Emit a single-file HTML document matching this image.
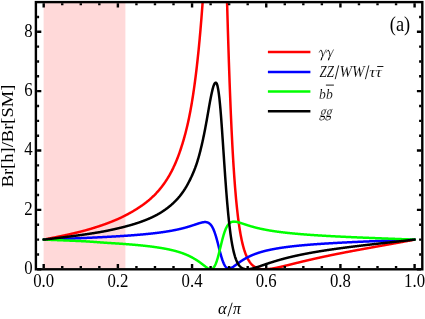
<!DOCTYPE html>
<html><head><meta charset="utf-8"><style>
html,body{margin:0;padding:0;background:#fff;}
svg{display:block;font-family:"Liberation Serif",serif;font-size:16px;fill:#000;}
</style></head><body>
<svg width="425" height="319" viewBox="0 0 425 319">
<rect width="425" height="319" fill="#fff"/>
<defs><filter id="tb" x="0" y="0" width="425" height="319" filterUnits="userSpaceOnUse"><feGaussianBlur stdDeviation="0.25"/></filter><clipPath id="c"><rect x="35.9" y="2.1" width="386.40000000000003" height="267.2"/></clipPath></defs>
<rect x="43.6" y="2.1" width="81.8" height="267.2" fill="#FFD9D9"/>
<g clip-path="url(#c)" fill="none" stroke-width="2.5" stroke-linejoin="round" stroke-linecap="round">
<path stroke="#f00" d="M43.70 239.61 L43.95 239.56 L44.19 239.51 L44.44 239.47 L44.69 239.42 L44.94 239.37 L45.18 239.32 L45.43 239.27 L45.68 239.23 L45.93 239.18 L46.17 239.13 L46.42 239.08 L46.67 239.03 L46.91 238.98 L47.16 238.94 L47.41 238.89 L47.66 238.84 L47.90 238.79 L48.15 238.74 L48.40 238.69 L48.65 238.64 L48.89 238.60 L49.14 238.55 L49.39 238.50 L49.63 238.45 L49.88 238.40 L50.13 238.35 L50.38 238.30 L50.62 238.25 L50.87 238.20 L51.12 238.15 L51.37 238.10 L51.61 238.05 L51.86 238.00 L52.11 237.95 L52.35 237.90 L52.60 237.85 L52.85 237.80 L53.10 237.75 L53.34 237.70 L53.59 237.65 L53.84 237.60 L54.09 237.55 L54.33 237.50 L54.58 237.45 L54.83 237.40 L55.07 237.35 L55.32 237.30 L55.57 237.25 L55.82 237.20 L56.06 237.15 L56.31 237.10 L56.56 237.05 L56.81 237.00 L57.05 236.94 L57.30 236.89 L57.55 236.84 L57.79 236.79 L58.04 236.74 L58.29 236.69 L58.54 236.64 L58.78 236.58 L59.03 236.53 L59.28 236.48 L59.53 236.43 L59.77 236.38 L60.02 236.32 L60.27 236.27 L60.51 236.22 L60.76 236.17 L61.01 236.12 L61.26 236.06 L61.50 236.01 L61.75 235.96 L62.00 235.90 L62.25 235.85 L62.49 235.80 L62.74 235.75 L62.99 235.69 L63.23 235.64 L63.48 235.59 L63.73 235.53 L63.98 235.48 L64.22 235.42 L64.47 235.37 L64.72 235.32 L64.96 235.26 L65.21 235.21 L65.46 235.15 L65.71 235.10 L65.95 235.05 L66.20 234.99 L66.45 234.94 L66.70 234.88 L66.94 234.83 L67.19 234.77 L67.44 234.72 L67.68 234.66 L67.93 234.61 L68.18 234.55 L68.43 234.50 L68.67 234.44 L68.92 234.38 L69.17 234.33 L69.42 234.27 L69.66 234.22 L69.91 234.16 L70.16 234.11 L70.40 234.05 L70.65 233.99 L70.90 233.94 L71.15 233.88 L71.39 233.82 L71.64 233.77 L71.89 233.71 L72.14 233.65 L72.38 233.59 L72.63 233.54 L72.88 233.48 L73.12 233.42 L73.37 233.36 L73.62 233.31 L73.87 233.25 L74.11 233.19 L74.36 233.13 L74.61 233.07 L74.86 233.01 L75.10 232.96 L75.35 232.90 L75.60 232.84 L75.84 232.78 L76.09 232.72 L76.34 232.66 L76.59 232.60 L76.83 232.54 L77.08 232.48 L77.33 232.42 L77.58 232.36 L77.82 232.30 L78.07 232.24 L78.32 232.18 L78.56 232.12 L78.81 232.06 L79.06 232.00 L79.31 231.94 L79.55 231.88 L79.80 231.82 L80.05 231.75 L80.30 231.69 L80.54 231.63 L80.79 231.57 L81.04 231.51 L81.28 231.44 L81.53 231.38 L81.78 231.32 L82.03 231.26 L82.27 231.19 L82.52 231.13 L82.77 231.06 L83.02 231.00 L83.26 230.93 L83.51 230.87 L83.76 230.80 L84.00 230.74 L84.25 230.67 L84.50 230.60 L84.75 230.54 L84.99 230.47 L85.24 230.40 L85.49 230.33 L85.74 230.26 L85.98 230.20 L86.23 230.13 L86.48 230.06 L86.72 229.99 L86.97 229.92 L87.22 229.85 L87.47 229.78 L87.71 229.71 L87.96 229.64 L88.21 229.57 L88.46 229.50 L88.70 229.42 L88.95 229.35 L89.20 229.28 L89.44 229.21 L89.69 229.13 L89.94 229.06 L90.19 228.99 L90.43 228.91 L90.68 228.84 L90.93 228.77 L91.18 228.69 L91.42 228.62 L91.67 228.54 L91.92 228.47 L92.16 228.39 L92.41 228.32 L92.66 228.24 L92.91 228.17 L93.15 228.09 L93.40 228.01 L93.65 227.94 L93.90 227.86 L94.14 227.78 L94.39 227.71 L94.64 227.63 L94.88 227.55 L95.13 227.47 L95.38 227.39 L95.63 227.31 L95.87 227.24 L96.12 227.16 L96.37 227.08 L96.62 227.00 L96.86 226.92 L97.11 226.84 L97.36 226.76 L97.60 226.68 L97.85 226.60 L98.10 226.52 L98.35 226.44 L98.59 226.36 L98.84 226.28 L99.09 226.19 L99.34 226.11 L99.58 226.03 L99.83 225.95 L100.08 225.87 L100.32 225.78 L100.57 225.70 L100.82 225.62 L101.07 225.53 L101.31 225.45 L101.56 225.36 L101.81 225.28 L102.05 225.19 L102.30 225.11 L102.55 225.02 L102.80 224.94 L103.04 224.85 L103.29 224.76 L103.54 224.68 L103.79 224.59 L104.03 224.50 L104.28 224.41 L104.53 224.33 L104.77 224.24 L105.02 224.15 L105.27 224.06 L105.52 223.97 L105.76 223.88 L106.01 223.79 L106.26 223.70 L106.51 223.61 L106.75 223.52 L107.00 223.42 L107.25 223.33 L107.49 223.24 L107.74 223.15 L107.99 223.05 L108.24 222.96 L108.48 222.87 L108.73 222.77 L108.98 222.68 L109.23 222.58 L109.47 222.49 L109.72 222.39 L109.97 222.30 L110.21 222.20 L110.46 222.10 L110.71 222.01 L110.96 221.91 L111.20 221.81 L111.45 221.71 L111.70 221.61 L111.95 221.52 L112.19 221.42 L112.44 221.32 L112.69 221.22 L112.93 221.12 L113.18 221.01 L113.43 220.91 L113.68 220.81 L113.92 220.71 L114.17 220.61 L114.42 220.50 L114.67 220.40 L114.91 220.30 L115.16 220.19 L115.41 220.09 L115.65 219.98 L115.90 219.88 L116.15 219.77 L116.40 219.67 L116.64 219.56 L116.89 219.45 L117.14 219.34 L117.39 219.24 L117.63 219.13 L117.88 219.02 L118.13 218.91 L118.37 218.80 L118.62 218.69 L118.87 218.58 L119.12 218.47 L119.36 218.35 L119.61 218.24 L119.86 218.13 L120.11 218.01 L120.35 217.90 L120.60 217.78 L120.85 217.67 L121.09 217.55 L121.34 217.43 L121.59 217.31 L121.84 217.20 L122.08 217.08 L122.33 216.96 L122.58 216.84 L122.83 216.72 L123.07 216.59 L123.32 216.47 L123.57 216.35 L123.81 216.23 L124.06 216.10 L124.31 215.98 L124.56 215.85 L124.80 215.73 L125.05 215.60 L125.30 215.47 L125.55 215.35 L125.79 215.22 L126.04 215.09 L126.29 214.96 L126.53 214.83 L126.78 214.70 L127.03 214.57 L127.28 214.44 L127.52 214.31 L127.77 214.17 L128.02 214.04 L128.27 213.90 L128.51 213.77 L128.76 213.63 L129.01 213.50 L129.25 213.36 L129.50 213.23 L129.75 213.09 L130.00 212.95 L130.24 212.81 L130.49 212.67 L130.74 212.53 L130.99 212.39 L131.23 212.25 L131.48 212.11 L131.73 211.96 L131.97 211.82 L132.22 211.68 L132.47 211.53 L132.72 211.39 L132.96 211.24 L133.21 211.10 L133.46 210.95 L133.71 210.80 L133.95 210.65 L134.20 210.51 L134.45 210.36 L134.69 210.21 L134.94 210.05 L135.19 209.90 L135.44 209.75 L135.68 209.60 L135.93 209.45 L136.18 209.29 L136.43 209.14 L136.67 208.98 L136.92 208.83 L137.17 208.67 L137.41 208.51 L137.66 208.35 L137.91 208.19 L138.16 208.04 L138.40 207.87 L138.65 207.71 L138.90 207.55 L139.14 207.39 L139.39 207.23 L139.64 207.06 L139.89 206.90 L140.13 206.73 L140.38 206.57 L140.63 206.40 L140.88 206.23 L141.12 206.06 L141.37 205.89 L141.62 205.72 L141.86 205.55 L142.11 205.38 L142.36 205.20 L142.61 205.03 L142.85 204.85 L143.10 204.67 L143.35 204.50 L143.60 204.32 L143.84 204.14 L144.09 203.95 L144.34 203.77 L144.58 203.59 L144.83 203.40 L145.08 203.21 L145.33 203.02 L145.57 202.83 L145.82 202.64 L146.07 202.45 L146.32 202.26 L146.56 202.06 L146.81 201.87 L147.06 201.67 L147.30 201.47 L147.55 201.27 L147.80 201.07 L148.05 200.87 L148.29 200.66 L148.54 200.46 L148.79 200.25 L149.04 200.04 L149.28 199.83 L149.53 199.62 L149.78 199.41 L150.02 199.19 L150.27 198.98 L150.52 198.76 L150.77 198.54 L151.01 198.32 L151.26 198.09 L151.51 197.87 L151.76 197.64 L152.00 197.42 L152.25 197.19 L152.50 196.95 L152.74 196.72 L152.99 196.49 L153.24 196.25 L153.49 196.01 L153.73 195.77 L153.98 195.53 L154.23 195.28 L154.48 195.04 L154.72 194.79 L154.97 194.54 L155.22 194.28 L155.46 194.03 L155.71 193.77 L155.96 193.51 L156.21 193.25 L156.45 192.99 L156.70 192.72 L156.95 192.46 L157.20 192.19 L157.44 191.91 L157.69 191.64 L157.94 191.36 L158.18 191.08 L158.43 190.80 L158.68 190.52 L158.93 190.23 L159.17 189.94 L159.42 189.65 L159.67 189.36 L159.92 189.06 L160.16 188.76 L160.41 188.46 L160.66 188.15 L160.90 187.84 L161.15 187.53 L161.40 187.22 L161.65 186.90 L161.89 186.59 L162.14 186.26 L162.39 185.94 L162.64 185.61 L162.88 185.28 L163.13 184.94 L163.38 184.61 L163.62 184.27 L163.87 183.92 L164.12 183.57 L164.37 183.22 L164.61 182.87 L164.86 182.51 L165.11 182.15 L165.36 181.79 L165.60 181.42 L165.85 181.05 L166.10 180.67 L166.34 180.29 L166.59 179.91 L166.84 179.52 L167.09 179.13 L167.33 178.73 L167.58 178.33 L167.83 177.93 L168.08 177.52 L168.32 177.11 L168.57 176.69 L168.82 176.27 L169.06 175.85 L169.31 175.42 L169.56 174.98 L169.81 174.55 L170.05 174.10 L170.30 173.65 L170.55 173.20 L170.80 172.74 L171.04 172.28 L171.29 171.81 L171.54 171.34 L171.78 170.86 L172.03 170.37 L172.28 169.88 L172.53 169.39 L172.77 168.89 L173.02 168.38 L173.27 167.87 L173.51 167.35 L173.76 166.83 L174.01 166.30 L174.26 165.76 L174.50 165.22 L174.75 164.67 L175.00 164.12 L175.25 163.55 L175.49 162.99 L175.74 162.41 L175.99 161.83 L176.23 161.24 L176.48 160.64 L176.73 160.04 L176.98 159.43 L177.22 158.81 L177.47 158.18 L177.72 157.54 L177.97 156.90 L178.21 156.25 L178.46 155.59 L178.71 154.92 L178.95 154.25 L179.20 153.56 L179.45 152.87 L179.70 152.16 L179.94 151.45 L180.19 150.73 L180.44 150.00 L180.69 149.26 L180.93 148.50 L181.18 147.74 L181.43 146.98 L181.67 146.20 L181.92 145.42 L182.17 144.63 L182.42 143.83 L182.66 143.02 L182.91 142.21 L183.16 141.38 L183.41 140.54 L183.65 139.70 L183.90 138.84 L184.15 137.97 L184.39 137.09 L184.64 136.20 L184.89 135.29 L185.14 134.37 L185.38 133.44 L185.63 132.49 L185.88 131.53 L186.13 130.56 L186.37 129.57 L186.62 128.56 L186.87 127.54 L187.11 126.50 L187.36 125.45 L187.61 124.37 L187.86 123.28 L188.10 122.17 L188.35 121.04 L188.60 119.89 L188.85 118.72 L189.09 117.52 L189.34 116.31 L189.59 115.07 L189.83 113.81 L190.08 112.53 L190.33 111.22 L190.58 109.89 L190.82 108.53 L191.07 107.15 L191.32 105.74 L191.57 104.30 L191.81 102.83 L192.06 101.34 L192.31 99.81 L192.55 98.26 L192.80 96.69 L193.05 95.08 L193.30 93.44 L193.54 91.78 L193.79 90.09 L194.04 88.36 L194.29 86.60 L194.53 84.81 L194.78 82.99 L195.03 81.13 L195.27 79.24 L195.52 77.31 L195.77 75.35 L196.02 73.35 L196.26 71.31 L196.51 69.23 L196.76 67.11 L197.01 64.95 L197.25 62.75 L197.50 60.50 L197.75 58.21 L197.99 55.88 L198.24 53.50 L198.49 51.07 L198.74 48.59 L198.98 46.07 L199.23 43.49 L199.48 40.86 L199.73 38.18 L199.97 35.45 L200.22 32.65 L200.47 29.81 L200.71 26.90 L200.96 23.93 L201.21 20.91 L201.46 17.82 L201.70 14.67 L201.95 11.45 L202.20 8.17 L202.45 4.82 L202.69 1.40 L202.94 -2.09 L203.19 -5.65 L203.43 -9.28 L203.68 -12.99 L203.93 -16.77 L204.18 -20.00 M226.68 -20.00 L226.68 -12.17 L226.92 -3.12 L227.17 5.75 L227.42 14.44 L227.67 22.92 L227.91 31.21 L228.16 39.29 L228.41 47.17 L228.66 54.83 L228.90 62.29 L229.15 69.53 L229.40 76.56 L229.64 83.38 L229.89 90.00 L230.14 96.41 L230.39 102.61 L230.63 108.62 L230.88 114.43 L231.13 120.04 L231.38 125.47 L231.62 130.72 L231.87 135.78 L232.12 140.68 L232.36 145.40 L232.61 149.96 L232.86 154.35 L233.11 158.59 L233.35 162.68 L233.60 166.63 L233.85 170.43 L234.10 174.09 L234.34 177.63 L234.59 181.03 L234.84 184.31 L235.08 187.48 L235.33 190.52 L235.58 193.46 L235.83 196.29 L236.07 199.02 L236.32 201.64 L236.57 204.17 L236.82 206.61 L237.06 208.96 L237.31 211.22 L237.56 213.40 L237.80 215.50 L238.05 217.53 L238.30 219.48 L238.55 221.36 L238.79 223.17 L239.04 224.91 L239.29 226.59 L239.54 228.21 L239.78 229.78 L240.03 231.28 L240.28 232.73 L240.52 234.13 L240.77 235.48 L241.02 236.77 L241.27 238.03 L241.51 239.23 L241.76 240.40 L242.01 241.52 L242.26 242.60 L242.50 243.64 L242.75 244.64 L243.00 245.61 L243.24 246.55 L243.49 247.45 L243.74 248.31 L243.99 249.15 L244.23 249.96 L244.48 250.73 L244.73 251.48 L244.98 252.21 L245.22 252.90 L245.47 253.58 L245.72 254.22 L245.96 254.85 L246.21 255.45 L246.46 256.03 L246.71 256.59 L246.95 257.13 L247.20 257.65 L247.45 258.15 L247.69 258.63 L247.94 259.10 L248.19 259.55 L248.44 259.98 L248.68 260.40 L248.93 260.80 L249.18 261.18 L249.43 261.55 L249.67 261.91 L249.92 262.26 L250.17 262.59 L250.41 262.91 L250.66 263.22 L250.91 263.51 L251.16 263.80 L251.40 264.07 L251.65 264.33 L251.90 264.59 L252.15 264.83 L252.39 265.06 L252.64 265.29 L252.89 265.50 L253.13 265.71 L253.38 265.91 L253.63 266.10 L253.88 266.28 L254.12 266.46 L254.37 266.63 L254.62 266.79 L254.87 266.94 L255.11 267.09 L255.36 267.23 L255.61 267.36 L255.85 267.49 L256.10 267.61 L256.35 267.73 L256.60 267.84 L256.84 267.95 L257.09 268.05 L257.34 268.14 L257.59 268.23 L257.83 268.32 L258.08 268.40 L258.33 268.48 L258.57 268.55 L258.82 268.62 L259.07 268.69 L259.32 268.75 L259.56 268.80 L259.81 268.86 L260.06 268.91 L260.31 268.95 L260.55 269.00 L260.80 269.04 L261.05 269.07 L261.29 269.11 L261.54 269.14 L261.79 269.16 L262.04 269.19 L262.28 269.21 L262.53 269.23 L262.78 269.25 L263.03 269.26 L263.27 269.27 L263.52 269.28 L263.77 269.29 L264.01 269.30 L264.26 269.30 L264.51 269.30 L264.76 269.30 L265.00 269.30 L265.25 269.29 L265.50 269.28 L265.75 269.28 L265.99 269.27 L266.24 269.25 L266.49 269.24 L266.73 269.23 L266.98 269.21 L267.23 269.19 L267.48 269.17 L267.72 269.15 L267.97 269.13 L268.22 269.11 L268.47 269.08 L268.71 269.05 L268.96 269.03 L269.21 269.00 L269.45 268.97 L269.70 268.94 L269.95 268.91 L270.20 268.87 L270.44 268.84 L270.69 268.81 L270.94 268.77 L271.19 268.73 L271.43 268.70 L271.68 268.66 L271.93 268.62 L272.17 268.58 L272.42 268.54 L272.67 268.50 L272.92 268.45 L273.16 268.41 L273.41 268.37 L273.66 268.32 L273.91 268.28 L274.15 268.23 L274.40 268.19 L274.65 268.14 L274.89 268.09 L275.14 268.04 L275.39 268.00 L275.64 267.95 L275.88 267.90 L276.13 267.85 L276.38 267.80 L276.63 267.74 L276.87 267.69 L277.12 267.64 L277.37 267.59 L277.61 267.54 L277.86 267.48 L278.11 267.43 L278.36 267.38 L278.60 267.32 L278.85 267.27 L279.10 267.21 L279.35 267.16 L279.59 267.10 L279.84 267.05 L280.09 266.99 L280.33 266.93 L280.58 266.88 L280.83 266.82 L281.08 266.76 L281.32 266.71 L281.57 266.65 L281.82 266.59 L282.07 266.53 L282.31 266.48 L282.56 266.42 L282.81 266.36 L283.05 266.30 L283.30 266.24 L283.55 266.18 L283.80 266.12 L284.04 266.06 L284.29 266.01 L284.54 265.95 L284.78 265.89 L285.03 265.83 L285.28 265.77 L285.53 265.71 L285.77 265.65 L286.02 265.59 L286.27 265.53 L286.52 265.47 L286.76 265.41 L287.01 265.35 L287.26 265.28 L287.50 265.22 L287.75 265.16 L288.00 265.10 L288.25 265.04 L288.49 264.98 L288.74 264.92 L288.99 264.86 L289.24 264.80 L289.48 264.74 L289.73 264.68 L289.98 264.61 L290.22 264.55 L290.47 264.49 L290.72 264.43 L290.97 264.37 L291.21 264.31 L291.46 264.25 L291.71 264.19 L291.96 264.13 L292.20 264.06 L292.45 264.00 L292.70 263.94 L292.94 263.88 L293.19 263.82 L293.44 263.76 L293.69 263.70 L293.93 263.64 L294.18 263.57 L294.43 263.51 L294.68 263.45 L294.92 263.39 L295.17 263.33 L295.42 263.27 L295.66 263.21 L295.91 263.15 L296.16 263.09 L296.41 263.03 L296.65 262.97 L296.90 262.90 L297.15 262.84 L297.40 262.78 L297.64 262.72 L297.89 262.66 L298.14 262.60 L298.38 262.54 L298.63 262.48 L298.88 262.42 L299.13 262.36 L299.37 262.30 L299.62 262.24 L299.87 262.18 L300.12 262.12 L300.36 262.06 L300.61 262.00 L300.86 261.94 L301.10 261.88 L301.35 261.82 L301.60 261.76 L301.85 261.70 L302.09 261.64 L302.34 261.58 L302.59 261.52 L302.84 261.46 L303.08 261.40 L303.33 261.34 L303.58 261.28 L303.82 261.23 L304.07 261.17 L304.32 261.11 L304.57 261.05 L304.81 260.99 L305.06 260.93 L305.31 260.87 L305.56 260.81 L305.80 260.76 L306.05 260.70 L306.30 260.64 L306.54 260.58 L306.79 260.52 L307.04 260.46 L307.29 260.41 L307.53 260.35 L307.78 260.29 L308.03 260.23 L308.28 260.17 L308.52 260.12 L308.77 260.06 L309.02 260.00 L309.26 259.94 L309.51 259.89 L309.76 259.83 L310.01 259.77 L310.25 259.71 L310.50 259.66 L310.75 259.60 L311.00 259.54 L311.24 259.49 L311.49 259.43 L311.74 259.37 L311.98 259.32 L312.23 259.26 L312.48 259.20 L312.73 259.15 L312.97 259.09 L313.22 259.04 L313.47 258.98 L313.72 258.92 L313.96 258.87 L314.21 258.81 L314.46 258.76 L314.70 258.70 L314.95 258.64 L315.20 258.59 L315.45 258.53 L315.69 258.48 L315.94 258.42 L316.19 258.37 L316.44 258.31 L316.68 258.26 L316.93 258.20 L317.18 258.15 L317.42 258.09 L317.67 258.04 L317.92 257.98 L318.17 257.93 L318.41 257.87 L318.66 257.82 L318.91 257.76 L319.16 257.71 L319.40 257.66 L319.65 257.60 L319.90 257.55 L320.14 257.49 L320.39 257.44 L320.64 257.39 L320.89 257.33 L321.13 257.28 L321.38 257.23 L321.63 257.17 L321.87 257.12 L322.12 257.06 L322.37 257.01 L322.62 256.96 L322.86 256.90 L323.11 256.85 L323.36 256.80 L323.61 256.75 L323.85 256.69 L324.10 256.64 L324.35 256.59 L324.59 256.53 L324.84 256.48 L325.09 256.43 L325.34 256.38 L325.58 256.33 L325.83 256.27 L326.08 256.22 L326.33 256.17 L326.57 256.12 L326.82 256.06 L327.07 256.01 L327.31 255.96 L327.56 255.91 L327.81 255.86 L328.06 255.81 L328.30 255.75 L328.55 255.70 L328.80 255.65 L329.05 255.60 L329.29 255.55 L329.54 255.50 L329.79 255.45 L330.03 255.39 L330.28 255.34 L330.53 255.29 L330.78 255.24 L331.02 255.19 L331.27 255.14 L331.52 255.09 L331.77 255.04 L332.01 254.99 L332.26 254.94 L332.51 254.89 L332.75 254.84 L333.00 254.79 L333.25 254.74 L333.50 254.69 L333.74 254.64 L333.99 254.59 L334.24 254.54 L334.49 254.49 L334.73 254.44 L334.98 254.39 L335.23 254.34 L335.47 254.29 L335.72 254.24 L335.97 254.19 L336.22 254.14 L336.46 254.09 L336.71 254.04 L336.96 253.99 L337.21 253.94 L337.45 253.89 L337.70 253.84 L337.95 253.79 L338.19 253.74 L338.44 253.69 L338.69 253.64 L338.94 253.60 L339.18 253.55 L339.43 253.50 L339.68 253.45 L339.93 253.40 L340.17 253.35 L340.42 253.30 L340.67 253.25 L340.91 253.21 L341.16 253.16 L341.41 253.11 L341.66 253.06 L341.90 253.01 L342.15 252.96 L342.40 252.92 L342.65 252.87 L342.89 252.82 L343.14 252.77 L343.39 252.72 L343.63 252.68 L343.88 252.63 L344.13 252.58 L344.38 252.53 L344.62 252.48 L344.87 252.44 L345.12 252.39 L345.37 252.34 L345.61 252.29 L345.86 252.25 L346.11 252.20 L346.35 252.15 L346.60 252.10 L346.85 252.06 L347.10 252.01 L347.34 251.96 L347.59 251.91 L347.84 251.87 L348.09 251.82 L348.33 251.77 L348.58 251.73 L348.83 251.68 L349.07 251.63 L349.32 251.59 L349.57 251.54 L349.82 251.49 L350.06 251.44 L350.31 251.40 L350.56 251.35 L350.81 251.30 L351.05 251.26 L351.30 251.21 L351.55 251.16 L351.79 251.12 L352.04 251.07 L352.29 251.03 L352.54 250.98 L352.78 250.93 L353.03 250.89 L353.28 250.84 L353.53 250.79 L353.77 250.75 L354.02 250.70 L354.27 250.65 L354.51 250.61 L354.76 250.56 L355.01 250.52 L355.26 250.47 L355.50 250.42 L355.75 250.38 L356.00 250.33 L356.25 250.29 L356.49 250.24 L356.74 250.19 L356.99 250.15 L357.23 250.10 L357.48 250.06 L357.73 250.01 L357.98 249.97 L358.22 249.92 L358.47 249.87 L358.72 249.83 L358.96 249.78 L359.21 249.74 L359.46 249.69 L359.71 249.65 L359.95 249.60 L360.20 249.56 L360.45 249.51 L360.70 249.46 L360.94 249.42 L361.19 249.37 L361.44 249.33 L361.68 249.28 L361.93 249.24 L362.18 249.19 L362.43 249.15 L362.67 249.10 L362.92 249.06 L363.17 249.01 L363.42 248.97 L363.66 248.92 L363.91 248.88 L364.16 248.83 L364.40 248.79 L364.65 248.74 L364.90 248.70 L365.15 248.65 L365.39 248.61 L365.64 248.56 L365.89 248.52 L366.14 248.47 L366.38 248.43 L366.63 248.38 L366.88 248.34 L367.12 248.29 L367.37 248.25 L367.62 248.20 L367.87 248.16 L368.11 248.11 L368.36 248.07 L368.61 248.02 L368.86 247.98 L369.10 247.93 L369.35 247.89 L369.60 247.84 L369.84 247.80 L370.09 247.75 L370.34 247.71 L370.59 247.67 L370.83 247.62 L371.08 247.58 L371.33 247.53 L371.58 247.49 L371.82 247.44 L372.07 247.40 L372.32 247.35 L372.56 247.31 L372.81 247.26 L373.06 247.22 L373.31 247.18 L373.55 247.13 L373.80 247.09 L374.05 247.04 L374.30 247.00 L374.54 246.95 L374.79 246.91 L375.04 246.86 L375.28 246.82 L375.53 246.78 L375.78 246.73 L376.03 246.69 L376.27 246.64 L376.52 246.60 L376.77 246.55 L377.02 246.51 L377.26 246.46 L377.51 246.42 L377.76 246.38 L378.00 246.33 L378.25 246.29 L378.50 246.24 L378.75 246.20 L378.99 246.15 L379.24 246.11 L379.49 246.06 L379.74 246.02 L379.98 245.98 L380.23 245.93 L380.48 245.89 L380.72 245.84 L380.97 245.80 L381.22 245.75 L381.47 245.71 L381.71 245.66 L381.96 245.62 L382.21 245.58 L382.46 245.53 L382.70 245.49 L382.95 245.44 L383.20 245.40 L383.44 245.35 L383.69 245.31 L383.94 245.27 L384.19 245.22 L384.43 245.18 L384.68 245.13 L384.93 245.09 L385.18 245.04 L385.42 245.00 L385.67 244.95 L385.92 244.91 L386.16 244.87 L386.41 244.82 L386.66 244.78 L386.91 244.73 L387.15 244.69 L387.40 244.64 L387.65 244.60 L387.90 244.55 L388.14 244.51 L388.39 244.46 L388.64 244.42 L388.88 244.38 L389.13 244.33 L389.38 244.29 L389.63 244.24 L389.87 244.20 L390.12 244.15 L390.37 244.11 L390.62 244.06 L390.86 244.02 L391.11 243.97 L391.36 243.93 L391.60 243.88 L391.85 243.84 L392.10 243.79 L392.35 243.75 L392.59 243.71 L392.84 243.66 L393.09 243.62 L393.34 243.57 L393.58 243.53 L393.83 243.48 L394.08 243.44 L394.32 243.39 L394.57 243.35 L394.82 243.30 L395.07 243.26 L395.31 243.21 L395.56 243.17 L395.81 243.12 L396.05 243.08 L396.30 243.03 L396.55 242.99 L396.80 242.94 L397.04 242.90 L397.29 242.85 L397.54 242.81 L397.79 242.76 L398.03 242.71 L398.28 242.67 L398.53 242.62 L398.77 242.58 L399.02 242.53 L399.27 242.49 L399.52 242.44 L399.76 242.40 L400.01 242.35 L400.26 242.31 L400.51 242.26 L400.75 242.22 L401.00 242.17 L401.25 242.12 L401.49 242.08 L401.74 242.03 L401.99 241.99 L402.24 241.94 L402.48 241.90 L402.73 241.85 L402.98 241.80 L403.23 241.76 L403.47 241.71 L403.72 241.67 L403.97 241.62 L404.21 241.58 L404.46 241.53 L404.71 241.48 L404.96 241.44 L405.20 241.39 L405.45 241.35 L405.70 241.30 L405.95 241.25 L406.19 241.21 L406.44 241.16 L406.69 241.11 L406.93 241.07 L407.18 241.02 L407.43 240.97 L407.68 240.93 L407.92 240.88 L408.17 240.84 L408.42 240.79 L408.67 240.74 L408.91 240.70 L409.16 240.65 L409.41 240.60 L409.65 240.56 L409.90 240.51 L410.15 240.46 L410.40 240.41 L410.64 240.37 L410.89 240.32 L411.14 240.27 L411.39 240.23 L411.63 240.18 L411.88 240.13 L412.13 240.08 L412.37 240.04 L412.62 239.99 L412.87 239.94 L413.12 239.90 L413.36 239.85 L413.61 239.80 L413.86 239.75 L414.11 239.71 L414.35 239.66 L414.60 239.61 "/>
<path stroke="#00f" d="M43.70 239.61 L43.95 239.60 L44.19 239.59 L44.44 239.58 L44.69 239.57 L44.94 239.56 L45.18 239.55 L45.43 239.54 L45.68 239.54 L45.93 239.53 L46.17 239.52 L46.42 239.51 L46.67 239.50 L46.91 239.49 L47.16 239.48 L47.41 239.47 L47.66 239.46 L47.90 239.45 L48.15 239.44 L48.40 239.43 L48.65 239.42 L48.89 239.41 L49.14 239.40 L49.39 239.39 L49.63 239.39 L49.88 239.38 L50.13 239.37 L50.38 239.36 L50.62 239.35 L50.87 239.34 L51.12 239.33 L51.37 239.32 L51.61 239.31 L51.86 239.30 L52.11 239.29 L52.35 239.28 L52.60 239.27 L52.85 239.26 L53.10 239.25 L53.34 239.24 L53.59 239.23 L53.84 239.22 L54.09 239.22 L54.33 239.21 L54.58 239.20 L54.83 239.19 L55.07 239.18 L55.32 239.17 L55.57 239.16 L55.82 239.15 L56.06 239.14 L56.31 239.13 L56.56 239.12 L56.81 239.11 L57.05 239.10 L57.30 239.09 L57.55 239.08 L57.79 239.07 L58.04 239.06 L58.29 239.05 L58.54 239.04 L58.78 239.03 L59.03 239.02 L59.28 239.01 L59.53 239.00 L59.77 239.00 L60.02 238.99 L60.27 238.98 L60.51 238.97 L60.76 238.96 L61.01 238.95 L61.26 238.94 L61.50 238.93 L61.75 238.92 L62.00 238.91 L62.25 238.90 L62.49 238.89 L62.74 238.88 L62.99 238.87 L63.23 238.86 L63.48 238.85 L63.73 238.84 L63.98 238.83 L64.22 238.82 L64.47 238.81 L64.72 238.80 L64.96 238.79 L65.21 238.78 L65.46 238.77 L65.71 238.76 L65.95 238.75 L66.20 238.74 L66.45 238.73 L66.70 238.72 L66.94 238.71 L67.19 238.70 L67.44 238.69 L67.68 238.68 L67.93 238.67 L68.18 238.66 L68.43 238.65 L68.67 238.64 L68.92 238.63 L69.17 238.62 L69.42 238.61 L69.66 238.60 L69.91 238.59 L70.16 238.58 L70.40 238.57 L70.65 238.56 L70.90 238.55 L71.15 238.54 L71.39 238.53 L71.64 238.52 L71.89 238.51 L72.14 238.50 L72.38 238.49 L72.63 238.48 L72.88 238.47 L73.12 238.46 L73.37 238.45 L73.62 238.44 L73.87 238.43 L74.11 238.42 L74.36 238.41 L74.61 238.40 L74.86 238.39 L75.10 238.38 L75.35 238.37 L75.60 238.36 L75.84 238.35 L76.09 238.34 L76.34 238.33 L76.59 238.32 L76.83 238.31 L77.08 238.30 L77.33 238.29 L77.58 238.28 L77.82 238.26 L78.07 238.25 L78.32 238.24 L78.56 238.23 L78.81 238.22 L79.06 238.21 L79.31 238.20 L79.55 238.19 L79.80 238.18 L80.05 238.17 L80.30 238.16 L80.54 238.15 L80.79 238.14 L81.04 238.13 L81.28 238.12 L81.53 238.11 L81.78 238.10 L82.03 238.08 L82.27 238.07 L82.52 238.06 L82.77 238.05 L83.02 238.04 L83.26 238.03 L83.51 238.02 L83.76 238.01 L84.00 238.00 L84.25 237.99 L84.50 237.98 L84.75 237.97 L84.99 237.95 L85.24 237.94 L85.49 237.93 L85.74 237.92 L85.98 237.91 L86.23 237.90 L86.48 237.89 L86.72 237.88 L86.97 237.87 L87.22 237.85 L87.47 237.84 L87.71 237.83 L87.96 237.82 L88.21 237.81 L88.46 237.80 L88.70 237.79 L88.95 237.78 L89.20 237.77 L89.44 237.75 L89.69 237.74 L89.94 237.73 L90.19 237.72 L90.43 237.71 L90.68 237.70 L90.93 237.69 L91.18 237.67 L91.42 237.66 L91.67 237.65 L91.92 237.64 L92.16 237.63 L92.41 237.62 L92.66 237.60 L92.91 237.59 L93.15 237.58 L93.40 237.57 L93.65 237.56 L93.90 237.55 L94.14 237.53 L94.39 237.52 L94.64 237.51 L94.88 237.50 L95.13 237.49 L95.38 237.48 L95.63 237.46 L95.87 237.45 L96.12 237.44 L96.37 237.43 L96.62 237.42 L96.86 237.40 L97.11 237.39 L97.36 237.38 L97.60 237.37 L97.85 237.36 L98.10 237.34 L98.35 237.33 L98.59 237.32 L98.84 237.31 L99.09 237.29 L99.34 237.28 L99.58 237.27 L99.83 237.26 L100.08 237.24 L100.32 237.23 L100.57 237.22 L100.82 237.21 L101.07 237.19 L101.31 237.18 L101.56 237.17 L101.81 237.16 L102.05 237.14 L102.30 237.13 L102.55 237.12 L102.80 237.11 L103.04 237.09 L103.29 237.08 L103.54 237.07 L103.79 237.06 L104.03 237.04 L104.28 237.03 L104.53 237.02 L104.77 237.00 L105.02 236.99 L105.27 236.98 L105.52 236.96 L105.76 236.95 L106.01 236.94 L106.26 236.92 L106.51 236.91 L106.75 236.90 L107.00 236.88 L107.25 236.87 L107.49 236.86 L107.74 236.84 L107.99 236.83 L108.24 236.82 L108.48 236.80 L108.73 236.79 L108.98 236.78 L109.23 236.76 L109.47 236.75 L109.72 236.74 L109.97 236.72 L110.21 236.71 L110.46 236.69 L110.71 236.68 L110.96 236.67 L111.20 236.65 L111.45 236.64 L111.70 236.62 L111.95 236.61 L112.19 236.60 L112.44 236.58 L112.69 236.57 L112.93 236.55 L113.18 236.54 L113.43 236.53 L113.68 236.51 L113.92 236.50 L114.17 236.48 L114.42 236.47 L114.67 236.45 L114.91 236.44 L115.16 236.42 L115.41 236.41 L115.65 236.39 L115.90 236.38 L116.15 236.37 L116.40 236.35 L116.64 236.34 L116.89 236.32 L117.14 236.31 L117.39 236.29 L117.63 236.28 L117.88 236.26 L118.13 236.24 L118.37 236.23 L118.62 236.21 L118.87 236.20 L119.12 236.18 L119.36 236.17 L119.61 236.15 L119.86 236.14 L120.11 236.12 L120.35 236.11 L120.60 236.09 L120.85 236.07 L121.09 236.06 L121.34 236.04 L121.59 236.03 L121.84 236.01 L122.08 235.99 L122.33 235.98 L122.58 235.96 L122.83 235.95 L123.07 235.93 L123.32 235.91 L123.57 235.90 L123.81 235.88 L124.06 235.86 L124.31 235.85 L124.56 235.83 L124.80 235.81 L125.05 235.80 L125.30 235.78 L125.55 235.76 L125.79 235.75 L126.04 235.73 L126.29 235.71 L126.53 235.70 L126.78 235.68 L127.03 235.66 L127.28 235.64 L127.52 235.63 L127.77 235.61 L128.02 235.59 L128.27 235.58 L128.51 235.56 L128.76 235.54 L129.01 235.52 L129.25 235.50 L129.50 235.49 L129.75 235.47 L130.00 235.45 L130.24 235.43 L130.49 235.41 L130.74 235.40 L130.99 235.38 L131.23 235.36 L131.48 235.34 L131.73 235.32 L131.97 235.30 L132.22 235.28 L132.47 235.27 L132.72 235.25 L132.96 235.23 L133.21 235.21 L133.46 235.19 L133.71 235.17 L133.95 235.15 L134.20 235.13 L134.45 235.11 L134.69 235.09 L134.94 235.07 L135.19 235.05 L135.44 235.03 L135.68 235.01 L135.93 235.00 L136.18 234.98 L136.43 234.95 L136.67 234.93 L136.92 234.91 L137.17 234.89 L137.41 234.87 L137.66 234.85 L137.91 234.83 L138.16 234.81 L138.40 234.79 L138.65 234.77 L138.90 234.75 L139.14 234.73 L139.39 234.71 L139.64 234.69 L139.89 234.66 L140.13 234.64 L140.38 234.62 L140.63 234.60 L140.88 234.58 L141.12 234.56 L141.37 234.53 L141.62 234.51 L141.86 234.49 L142.11 234.47 L142.36 234.45 L142.61 234.42 L142.85 234.40 L143.10 234.38 L143.35 234.36 L143.60 234.33 L143.84 234.31 L144.09 234.29 L144.34 234.26 L144.58 234.24 L144.83 234.22 L145.08 234.19 L145.33 234.17 L145.57 234.14 L145.82 234.12 L146.07 234.10 L146.32 234.07 L146.56 234.05 L146.81 234.02 L147.06 234.00 L147.30 233.97 L147.55 233.95 L147.80 233.93 L148.05 233.90 L148.29 233.87 L148.54 233.85 L148.79 233.82 L149.04 233.80 L149.28 233.77 L149.53 233.75 L149.78 233.72 L150.02 233.69 L150.27 233.67 L150.52 233.64 L150.77 233.62 L151.01 233.59 L151.26 233.56 L151.51 233.54 L151.76 233.51 L152.00 233.48 L152.25 233.45 L152.50 233.43 L152.74 233.40 L152.99 233.37 L153.24 233.34 L153.49 233.31 L153.73 233.29 L153.98 233.26 L154.23 233.23 L154.48 233.20 L154.72 233.17 L154.97 233.14 L155.22 233.11 L155.46 233.08 L155.71 233.05 L155.96 233.02 L156.21 232.99 L156.45 232.96 L156.70 232.93 L156.95 232.90 L157.20 232.87 L157.44 232.84 L157.69 232.81 L157.94 232.78 L158.18 232.75 L158.43 232.72 L158.68 232.68 L158.93 232.65 L159.17 232.62 L159.42 232.59 L159.67 232.55 L159.92 232.52 L160.16 232.49 L160.41 232.45 L160.66 232.42 L160.90 232.39 L161.15 232.35 L161.40 232.32 L161.65 232.29 L161.89 232.25 L162.14 232.22 L162.39 232.18 L162.64 232.15 L162.88 232.11 L163.13 232.08 L163.38 232.04 L163.62 232.00 L163.87 231.97 L164.12 231.93 L164.37 231.89 L164.61 231.86 L164.86 231.82 L165.11 231.78 L165.36 231.74 L165.60 231.71 L165.85 231.67 L166.10 231.63 L166.34 231.59 L166.59 231.55 L166.84 231.51 L167.09 231.47 L167.33 231.43 L167.58 231.39 L167.83 231.35 L168.08 231.31 L168.32 231.27 L168.57 231.23 L168.82 231.19 L169.06 231.15 L169.31 231.10 L169.56 231.06 L169.81 231.02 L170.05 230.98 L170.30 230.93 L170.55 230.89 L170.80 230.85 L171.04 230.80 L171.29 230.76 L171.54 230.71 L171.78 230.67 L172.03 230.62 L172.28 230.58 L172.53 230.53 L172.77 230.48 L173.02 230.44 L173.27 230.39 L173.51 230.34 L173.76 230.29 L174.01 230.25 L174.26 230.20 L174.50 230.15 L174.75 230.10 L175.00 230.05 L175.25 230.00 L175.49 229.95 L175.74 229.90 L175.99 229.85 L176.23 229.80 L176.48 229.75 L176.73 229.69 L176.98 229.64 L177.22 229.59 L177.47 229.53 L177.72 229.48 L177.97 229.43 L178.21 229.37 L178.46 229.32 L178.71 229.26 L178.95 229.21 L179.20 229.15 L179.45 229.09 L179.70 229.04 L179.94 228.98 L180.19 228.92 L180.44 228.86 L180.69 228.80 L180.93 228.74 L181.18 228.68 L181.43 228.62 L181.67 228.56 L181.92 228.50 L182.17 228.44 L182.42 228.38 L182.66 228.32 L182.91 228.25 L183.16 228.19 L183.41 228.13 L183.65 228.06 L183.90 228.00 L184.15 227.93 L184.39 227.86 L184.64 227.80 L184.89 227.73 L185.14 227.66 L185.38 227.60 L185.63 227.53 L185.88 227.46 L186.13 227.39 L186.37 227.32 L186.62 227.25 L186.87 227.18 L187.11 227.11 L187.36 227.04 L187.61 226.96 L187.86 226.89 L188.10 226.82 L188.35 226.75 L188.60 226.67 L188.85 226.60 L189.09 226.52 L189.34 226.45 L189.59 226.37 L189.83 226.29 L190.08 226.22 L190.33 226.14 L190.58 226.06 L190.82 225.98 L191.07 225.91 L191.32 225.83 L191.57 225.75 L191.81 225.67 L192.06 225.59 L192.31 225.51 L192.55 225.43 L192.80 225.34 L193.05 225.26 L193.30 225.18 L193.54 225.10 L193.79 225.02 L194.04 224.93 L194.29 224.85 L194.53 224.77 L194.78 224.69 L195.03 224.60 L195.27 224.52 L195.52 224.44 L195.77 224.36 L196.02 224.27 L196.26 224.19 L196.51 224.11 L196.76 224.02 L197.01 223.94 L197.25 223.86 L197.50 223.78 L197.75 223.70 L197.99 223.62 L198.24 223.54 L198.49 223.46 L198.74 223.38 L198.98 223.30 L199.23 223.23 L199.48 223.15 L199.73 223.08 L199.97 223.00 L200.22 222.93 L200.47 222.86 L200.71 222.80 L200.96 222.73 L201.21 222.66 L201.46 222.60 L201.70 222.54 L201.95 222.49 L202.20 222.43 L202.45 222.38 L202.69 222.33 L202.94 222.29 L203.19 222.24 L203.43 222.21 L203.68 222.17 L203.93 222.15 L204.18 222.12 L204.42 222.10 L204.67 222.09 L204.92 222.08 L205.17 222.08 L205.41 222.08 L205.66 222.10 L205.91 222.11 L206.15 222.14 L206.40 222.18 L206.65 222.22 L206.90 222.27 L207.14 222.34 L207.39 222.41 L207.64 222.50 L207.89 222.59 L208.13 222.70 L208.38 222.82 L208.63 222.96 L208.87 223.11 L209.12 223.27 L209.37 223.45 L209.62 223.65 L209.86 223.86 L210.11 224.09 L210.36 224.34 L210.61 224.61 L210.85 224.90 L211.10 225.21 L211.35 225.54 L211.59 225.90 L211.84 226.28 L212.09 226.68 L212.34 227.11 L212.58 227.56 L212.83 228.04 L213.08 228.54 L213.32 229.07 L213.57 229.63 L213.82 230.22 L214.07 230.83 L214.31 231.47 L214.56 232.14 L214.81 232.83 L215.06 233.56 L215.30 234.31 L215.55 235.08 L215.80 235.88 L216.04 236.70 L216.29 237.55 L216.54 238.42 L216.79 239.31 L217.03 240.22 L217.28 241.14 L217.53 242.08 L217.78 243.03 L218.02 244.00 L218.27 244.97 L218.52 245.94 L218.76 246.92 L219.01 247.90 L219.26 248.88 L219.51 249.85 L219.75 250.81 L220.00 251.77 L220.25 252.71 L220.50 253.63 L220.74 254.54 L220.99 255.43 L221.24 256.30 L221.48 257.14 L221.73 257.96 L221.98 258.75 L222.23 259.51 L222.47 260.24 L222.72 260.94 L222.97 261.60 L223.22 262.24 L223.46 262.84 L223.71 263.41 L223.96 263.94 L224.20 264.45 L224.45 264.91 L224.70 265.35 L224.95 265.75 L225.19 266.12 L225.44 266.47 L225.69 266.78 L225.94 267.06 L226.18 267.31 L226.43 267.53 L226.68 267.73 L226.92 267.90 L227.17 268.05 L227.42 268.17 L227.67 268.28 L227.91 268.36 L228.16 268.42 L228.41 268.46 L228.66 268.48 L228.90 268.49 L229.15 268.48 L229.40 268.46 L229.64 268.42 L229.89 268.37 L230.14 268.30 L230.39 268.23 L230.63 268.14 L230.88 268.05 L231.13 267.94 L231.38 267.83 L231.62 267.71 L231.87 267.58 L232.12 267.44 L232.36 267.30 L232.61 267.16 L232.86 267.00 L233.11 266.85 L233.35 266.69 L233.60 266.53 L233.85 266.36 L234.10 266.19 L234.34 266.02 L234.59 265.84 L234.84 265.67 L235.08 265.49 L235.33 265.31 L235.58 265.13 L235.83 264.95 L236.07 264.77 L236.32 264.59 L236.57 264.41 L236.82 264.22 L237.06 264.04 L237.31 263.86 L237.56 263.68 L237.80 263.50 L238.05 263.32 L238.30 263.14 L238.55 262.96 L238.79 262.78 L239.04 262.60 L239.29 262.43 L239.54 262.25 L239.78 262.08 L240.03 261.90 L240.28 261.73 L240.52 261.56 L240.77 261.39 L241.02 261.23 L241.27 261.06 L241.51 260.90 L241.76 260.73 L242.01 260.57 L242.26 260.41 L242.50 260.25 L242.75 260.09 L243.00 259.94 L243.24 259.78 L243.49 259.63 L243.74 259.48 L243.99 259.33 L244.23 259.18 L244.48 259.03 L244.73 258.89 L244.98 258.74 L245.22 258.60 L245.47 258.46 L245.72 258.32 L245.96 258.18 L246.21 258.04 L246.46 257.91 L246.71 257.78 L246.95 257.64 L247.20 257.51 L247.45 257.38 L247.69 257.25 L247.94 257.13 L248.19 257.00 L248.44 256.88 L248.68 256.76 L248.93 256.63 L249.18 256.51 L249.43 256.40 L249.67 256.28 L249.92 256.16 L250.17 256.05 L250.41 255.93 L250.66 255.82 L250.91 255.71 L251.16 255.60 L251.40 255.49 L251.65 255.38 L251.90 255.28 L252.15 255.17 L252.39 255.07 L252.64 254.97 L252.89 254.86 L253.13 254.76 L253.38 254.66 L253.63 254.56 L253.88 254.47 L254.12 254.37 L254.37 254.27 L254.62 254.18 L254.87 254.09 L255.11 253.99 L255.36 253.90 L255.61 253.81 L255.85 253.72 L256.10 253.63 L256.35 253.54 L256.60 253.46 L256.84 253.37 L257.09 253.29 L257.34 253.20 L257.59 253.12 L257.83 253.03 L258.08 252.95 L258.33 252.87 L258.57 252.79 L258.82 252.71 L259.07 252.63 L259.32 252.55 L259.56 252.48 L259.81 252.40 L260.06 252.33 L260.31 252.25 L260.55 252.18 L260.80 252.10 L261.05 252.03 L261.29 251.96 L261.54 251.89 L261.79 251.82 L262.04 251.75 L262.28 251.68 L262.53 251.61 L262.78 251.54 L263.03 251.47 L263.27 251.40 L263.52 251.34 L263.77 251.27 L264.01 251.21 L264.26 251.14 L264.51 251.08 L264.76 251.02 L265.00 250.95 L265.25 250.89 L265.50 250.83 L265.75 250.77 L265.99 250.71 L266.24 250.65 L266.49 250.59 L266.73 250.53 L266.98 250.47 L267.23 250.41 L267.48 250.36 L267.72 250.30 L267.97 250.24 L268.22 250.19 L268.47 250.13 L268.71 250.08 L268.96 250.02 L269.21 249.97 L269.45 249.91 L269.70 249.86 L269.95 249.81 L270.20 249.76 L270.44 249.70 L270.69 249.65 L270.94 249.60 L271.19 249.55 L271.43 249.50 L271.68 249.45 L271.93 249.40 L272.17 249.35 L272.42 249.30 L272.67 249.25 L272.92 249.21 L273.16 249.16 L273.41 249.11 L273.66 249.07 L273.91 249.02 L274.15 248.97 L274.40 248.93 L274.65 248.88 L274.89 248.84 L275.14 248.79 L275.39 248.75 L275.64 248.70 L275.88 248.66 L276.13 248.62 L276.38 248.57 L276.63 248.53 L276.87 248.49 L277.12 248.45 L277.37 248.41 L277.61 248.36 L277.86 248.32 L278.11 248.28 L278.36 248.24 L278.60 248.20 L278.85 248.16 L279.10 248.12 L279.35 248.08 L279.59 248.04 L279.84 248.00 L280.09 247.97 L280.33 247.93 L280.58 247.89 L280.83 247.85 L281.08 247.81 L281.32 247.78 L281.57 247.74 L281.82 247.70 L282.07 247.67 L282.31 247.63 L282.56 247.59 L282.81 247.56 L283.05 247.52 L283.30 247.49 L283.55 247.45 L283.80 247.42 L284.04 247.38 L284.29 247.35 L284.54 247.31 L284.78 247.28 L285.03 247.25 L285.28 247.21 L285.53 247.18 L285.77 247.15 L286.02 247.11 L286.27 247.08 L286.52 247.05 L286.76 247.02 L287.01 246.98 L287.26 246.95 L287.50 246.92 L287.75 246.89 L288.00 246.86 L288.25 246.83 L288.49 246.79 L288.74 246.76 L288.99 246.73 L289.24 246.70 L289.48 246.67 L289.73 246.64 L289.98 246.61 L290.22 246.58 L290.47 246.55 L290.72 246.52 L290.97 246.50 L291.21 246.47 L291.46 246.44 L291.71 246.41 L291.96 246.38 L292.20 246.35 L292.45 246.32 L292.70 246.30 L292.94 246.27 L293.19 246.24 L293.44 246.21 L293.69 246.19 L293.93 246.16 L294.18 246.13 L294.43 246.10 L294.68 246.08 L294.92 246.05 L295.17 246.02 L295.42 246.00 L295.66 245.97 L295.91 245.95 L296.16 245.92 L296.41 245.89 L296.65 245.87 L296.90 245.84 L297.15 245.82 L297.40 245.79 L297.64 245.77 L297.89 245.74 L298.14 245.72 L298.38 245.69 L298.63 245.67 L298.88 245.64 L299.13 245.62 L299.37 245.60 L299.62 245.57 L299.87 245.55 L300.12 245.52 L300.36 245.50 L300.61 245.48 L300.86 245.45 L301.10 245.43 L301.35 245.41 L301.60 245.38 L301.85 245.36 L302.09 245.34 L302.34 245.31 L302.59 245.29 L302.84 245.27 L303.08 245.25 L303.33 245.22 L303.58 245.20 L303.82 245.18 L304.07 245.16 L304.32 245.14 L304.57 245.11 L304.81 245.09 L305.06 245.07 L305.31 245.05 L305.56 245.03 L305.80 245.01 L306.05 244.99 L306.30 244.96 L306.54 244.94 L306.79 244.92 L307.04 244.90 L307.29 244.88 L307.53 244.86 L307.78 244.84 L308.03 244.82 L308.28 244.80 L308.52 244.78 L308.77 244.76 L309.02 244.74 L309.26 244.72 L309.51 244.70 L309.76 244.68 L310.01 244.66 L310.25 244.64 L310.50 244.62 L310.75 244.60 L311.00 244.58 L311.24 244.56 L311.49 244.54 L311.74 244.52 L311.98 244.50 L312.23 244.48 L312.48 244.47 L312.73 244.45 L312.97 244.43 L313.22 244.41 L313.47 244.39 L313.72 244.37 L313.96 244.35 L314.21 244.34 L314.46 244.32 L314.70 244.30 L314.95 244.28 L315.20 244.26 L315.45 244.24 L315.69 244.23 L315.94 244.21 L316.19 244.19 L316.44 244.17 L316.68 244.15 L316.93 244.14 L317.18 244.12 L317.42 244.10 L317.67 244.08 L317.92 244.07 L318.17 244.05 L318.41 244.03 L318.66 244.02 L318.91 244.00 L319.16 243.98 L319.40 243.96 L319.65 243.95 L319.90 243.93 L320.14 243.91 L320.39 243.90 L320.64 243.88 L320.89 243.86 L321.13 243.85 L321.38 243.83 L321.63 243.81 L321.87 243.80 L322.12 243.78 L322.37 243.77 L322.62 243.75 L322.86 243.73 L323.11 243.72 L323.36 243.70 L323.61 243.69 L323.85 243.67 L324.10 243.65 L324.35 243.64 L324.59 243.62 L324.84 243.61 L325.09 243.59 L325.34 243.57 L325.58 243.56 L325.83 243.54 L326.08 243.53 L326.33 243.51 L326.57 243.50 L326.82 243.48 L327.07 243.47 L327.31 243.45 L327.56 243.44 L327.81 243.42 L328.06 243.41 L328.30 243.39 L328.55 243.38 L328.80 243.36 L329.05 243.35 L329.29 243.33 L329.54 243.32 L329.79 243.30 L330.03 243.29 L330.28 243.27 L330.53 243.26 L330.78 243.24 L331.02 243.23 L331.27 243.22 L331.52 243.20 L331.77 243.19 L332.01 243.17 L332.26 243.16 L332.51 243.14 L332.75 243.13 L333.00 243.12 L333.25 243.10 L333.50 243.09 L333.74 243.07 L333.99 243.06 L334.24 243.05 L334.49 243.03 L334.73 243.02 L334.98 243.00 L335.23 242.99 L335.47 242.98 L335.72 242.96 L335.97 242.95 L336.22 242.93 L336.46 242.92 L336.71 242.91 L336.96 242.89 L337.21 242.88 L337.45 242.87 L337.70 242.85 L337.95 242.84 L338.19 242.83 L338.44 242.81 L338.69 242.80 L338.94 242.79 L339.18 242.77 L339.43 242.76 L339.68 242.75 L339.93 242.73 L340.17 242.72 L340.42 242.71 L340.67 242.70 L340.91 242.68 L341.16 242.67 L341.41 242.66 L341.66 242.64 L341.90 242.63 L342.15 242.62 L342.40 242.61 L342.65 242.59 L342.89 242.58 L343.14 242.57 L343.39 242.56 L343.63 242.54 L343.88 242.53 L344.13 242.52 L344.38 242.50 L344.62 242.49 L344.87 242.48 L345.12 242.47 L345.37 242.46 L345.61 242.44 L345.86 242.43 L346.11 242.42 L346.35 242.41 L346.60 242.39 L346.85 242.38 L347.10 242.37 L347.34 242.36 L347.59 242.34 L347.84 242.33 L348.09 242.32 L348.33 242.31 L348.58 242.30 L348.83 242.28 L349.07 242.27 L349.32 242.26 L349.57 242.25 L349.82 242.24 L350.06 242.23 L350.31 242.21 L350.56 242.20 L350.81 242.19 L351.05 242.18 L351.30 242.17 L351.55 242.15 L351.79 242.14 L352.04 242.13 L352.29 242.12 L352.54 242.11 L352.78 242.10 L353.03 242.08 L353.28 242.07 L353.53 242.06 L353.77 242.05 L354.02 242.04 L354.27 242.03 L354.51 242.02 L354.76 242.00 L355.01 241.99 L355.26 241.98 L355.50 241.97 L355.75 241.96 L356.00 241.95 L356.25 241.94 L356.49 241.92 L356.74 241.91 L356.99 241.90 L357.23 241.89 L357.48 241.88 L357.73 241.87 L357.98 241.86 L358.22 241.85 L358.47 241.84 L358.72 241.82 L358.96 241.81 L359.21 241.80 L359.46 241.79 L359.71 241.78 L359.95 241.77 L360.20 241.76 L360.45 241.75 L360.70 241.74 L360.94 241.73 L361.19 241.71 L361.44 241.70 L361.68 241.69 L361.93 241.68 L362.18 241.67 L362.43 241.66 L362.67 241.65 L362.92 241.64 L363.17 241.63 L363.42 241.62 L363.66 241.61 L363.91 241.60 L364.16 241.59 L364.40 241.57 L364.65 241.56 L364.90 241.55 L365.15 241.54 L365.39 241.53 L365.64 241.52 L365.89 241.51 L366.14 241.50 L366.38 241.49 L366.63 241.48 L366.88 241.47 L367.12 241.46 L367.37 241.45 L367.62 241.44 L367.87 241.43 L368.11 241.42 L368.36 241.41 L368.61 241.40 L368.86 241.39 L369.10 241.38 L369.35 241.37 L369.60 241.35 L369.84 241.34 L370.09 241.33 L370.34 241.32 L370.59 241.31 L370.83 241.30 L371.08 241.29 L371.33 241.28 L371.58 241.27 L371.82 241.26 L372.07 241.25 L372.32 241.24 L372.56 241.23 L372.81 241.22 L373.06 241.21 L373.31 241.20 L373.55 241.19 L373.80 241.18 L374.05 241.17 L374.30 241.16 L374.54 241.15 L374.79 241.14 L375.04 241.13 L375.28 241.12 L375.53 241.11 L375.78 241.10 L376.03 241.09 L376.27 241.08 L376.52 241.07 L376.77 241.06 L377.02 241.05 L377.26 241.04 L377.51 241.03 L377.76 241.02 L378.00 241.01 L378.25 241.00 L378.50 240.99 L378.75 240.98 L378.99 240.97 L379.24 240.96 L379.49 240.95 L379.74 240.94 L379.98 240.93 L380.23 240.92 L380.48 240.91 L380.72 240.90 L380.97 240.89 L381.22 240.88 L381.47 240.87 L381.71 240.86 L381.96 240.85 L382.21 240.84 L382.46 240.83 L382.70 240.82 L382.95 240.82 L383.20 240.81 L383.44 240.80 L383.69 240.79 L383.94 240.78 L384.19 240.77 L384.43 240.76 L384.68 240.75 L384.93 240.74 L385.18 240.73 L385.42 240.72 L385.67 240.71 L385.92 240.70 L386.16 240.69 L386.41 240.68 L386.66 240.67 L386.91 240.66 L387.15 240.65 L387.40 240.64 L387.65 240.63 L387.90 240.62 L388.14 240.61 L388.39 240.60 L388.64 240.59 L388.88 240.58 L389.13 240.57 L389.38 240.56 L389.63 240.56 L389.87 240.55 L390.12 240.54 L390.37 240.53 L390.62 240.52 L390.86 240.51 L391.11 240.50 L391.36 240.49 L391.60 240.48 L391.85 240.47 L392.10 240.46 L392.35 240.45 L392.59 240.44 L392.84 240.43 L393.09 240.42 L393.34 240.41 L393.58 240.40 L393.83 240.39 L394.08 240.38 L394.32 240.38 L394.57 240.37 L394.82 240.36 L395.07 240.35 L395.31 240.34 L395.56 240.33 L395.81 240.32 L396.05 240.31 L396.30 240.30 L396.55 240.29 L396.80 240.28 L397.04 240.27 L397.29 240.26 L397.54 240.25 L397.79 240.24 L398.03 240.23 L398.28 240.23 L398.53 240.22 L398.77 240.21 L399.02 240.20 L399.27 240.19 L399.52 240.18 L399.76 240.17 L400.01 240.16 L400.26 240.15 L400.51 240.14 L400.75 240.13 L401.00 240.12 L401.25 240.11 L401.49 240.10 L401.74 240.09 L401.99 240.08 L402.24 240.08 L402.48 240.07 L402.73 240.06 L402.98 240.05 L403.23 240.04 L403.47 240.03 L403.72 240.02 L403.97 240.01 L404.21 240.00 L404.46 239.99 L404.71 239.98 L404.96 239.97 L405.20 239.96 L405.45 239.95 L405.70 239.95 L405.95 239.94 L406.19 239.93 L406.44 239.92 L406.69 239.91 L406.93 239.90 L407.18 239.89 L407.43 239.88 L407.68 239.87 L407.92 239.86 L408.17 239.85 L408.42 239.84 L408.67 239.83 L408.91 239.82 L409.16 239.81 L409.41 239.81 L409.65 239.80 L409.90 239.79 L410.15 239.78 L410.40 239.77 L410.64 239.76 L410.89 239.75 L411.14 239.74 L411.39 239.73 L411.63 239.72 L411.88 239.71 L412.13 239.70 L412.37 239.69 L412.62 239.68 L412.87 239.68 L413.12 239.67 L413.36 239.66 L413.61 239.65 L413.86 239.64 L414.11 239.63 L414.35 239.62 L414.60 239.61 "/>
<path stroke="#0f0" d="M43.70 239.61 L43.95 239.62 L44.19 239.63 L44.44 239.64 L44.69 239.65 L44.94 239.66 L45.18 239.67 L45.43 239.68 L45.68 239.68 L45.93 239.69 L46.17 239.70 L46.42 239.71 L46.67 239.72 L46.91 239.73 L47.16 239.74 L47.41 239.75 L47.66 239.76 L47.90 239.77 L48.15 239.78 L48.40 239.79 L48.65 239.80 L48.89 239.81 L49.14 239.82 L49.39 239.83 L49.63 239.84 L49.88 239.84 L50.13 239.85 L50.38 239.86 L50.62 239.87 L50.87 239.88 L51.12 239.89 L51.37 239.90 L51.61 239.91 L51.86 239.92 L52.11 239.93 L52.35 239.94 L52.60 239.95 L52.85 239.96 L53.10 239.97 L53.34 239.98 L53.59 239.99 L53.84 240.00 L54.09 240.01 L54.33 240.02 L54.58 240.03 L54.83 240.03 L55.07 240.04 L55.32 240.05 L55.57 240.06 L55.82 240.07 L56.06 240.08 L56.31 240.09 L56.56 240.10 L56.81 240.11 L57.05 240.12 L57.30 240.13 L57.55 240.14 L57.79 240.15 L58.04 240.16 L58.29 240.17 L58.54 240.18 L58.78 240.19 L59.03 240.20 L59.28 240.21 L59.53 240.22 L59.77 240.23 L60.02 240.24 L60.27 240.25 L60.51 240.26 L60.76 240.27 L61.01 240.28 L61.26 240.29 L61.50 240.30 L61.75 240.31 L62.00 240.32 L62.25 240.33 L62.49 240.34 L62.74 240.35 L62.99 240.36 L63.23 240.37 L63.48 240.38 L63.73 240.39 L63.98 240.40 L64.22 240.41 L64.47 240.42 L64.72 240.43 L64.96 240.44 L65.21 240.45 L65.46 240.46 L65.71 240.47 L65.95 240.48 L66.20 240.49 L66.45 240.50 L66.70 240.51 L66.94 240.52 L67.19 240.53 L67.44 240.54 L67.68 240.55 L67.93 240.56 L68.18 240.57 L68.43 240.58 L68.67 240.59 L68.92 240.60 L69.17 240.61 L69.42 240.62 L69.66 240.63 L69.91 240.64 L70.16 240.65 L70.40 240.66 L70.65 240.67 L70.90 240.68 L71.15 240.69 L71.39 240.70 L71.64 240.71 L71.89 240.72 L72.14 240.73 L72.38 240.74 L72.63 240.75 L72.88 240.76 L73.12 240.77 L73.37 240.78 L73.62 240.79 L73.87 240.80 L74.11 240.82 L74.36 240.83 L74.61 240.84 L74.86 240.85 L75.10 240.86 L75.35 240.87 L75.60 240.88 L75.84 240.89 L76.09 240.90 L76.34 240.91 L76.59 240.92 L76.83 240.93 L77.08 240.94 L77.33 240.95 L77.58 240.96 L77.82 240.97 L78.07 240.99 L78.32 241.00 L78.56 241.01 L78.81 241.02 L79.06 241.03 L79.31 241.04 L79.55 241.05 L79.80 241.06 L80.05 241.07 L80.30 241.08 L80.54 241.09 L80.79 241.11 L81.04 241.12 L81.28 241.13 L81.53 241.14 L81.78 241.15 L82.03 241.16 L82.27 241.18 L82.52 241.19 L82.77 241.20 L83.02 241.21 L83.26 241.23 L83.51 241.24 L83.76 241.25 L84.00 241.27 L84.25 241.28 L84.50 241.29 L84.75 241.31 L84.99 241.32 L85.24 241.33 L85.49 241.35 L85.74 241.36 L85.98 241.38 L86.23 241.39 L86.48 241.41 L86.72 241.42 L86.97 241.44 L87.22 241.45 L87.47 241.47 L87.71 241.48 L87.96 241.50 L88.21 241.52 L88.46 241.53 L88.70 241.55 L88.95 241.56 L89.20 241.58 L89.44 241.60 L89.69 241.61 L89.94 241.63 L90.19 241.65 L90.43 241.66 L90.68 241.68 L90.93 241.70 L91.18 241.71 L91.42 241.73 L91.67 241.75 L91.92 241.77 L92.16 241.78 L92.41 241.80 L92.66 241.82 L92.91 241.83 L93.15 241.85 L93.40 241.87 L93.65 241.89 L93.90 241.91 L94.14 241.92 L94.39 241.94 L94.64 241.96 L94.88 241.98 L95.13 242.00 L95.38 242.01 L95.63 242.03 L95.87 242.05 L96.12 242.07 L96.37 242.09 L96.62 242.10 L96.86 242.12 L97.11 242.14 L97.36 242.16 L97.60 242.18 L97.85 242.20 L98.10 242.21 L98.35 242.23 L98.59 242.25 L98.84 242.27 L99.09 242.29 L99.34 242.30 L99.58 242.32 L99.83 242.34 L100.08 242.36 L100.32 242.38 L100.57 242.40 L100.82 242.41 L101.07 242.43 L101.31 242.45 L101.56 242.47 L101.81 242.49 L102.05 242.50 L102.30 242.52 L102.55 242.54 L102.80 242.56 L103.04 242.58 L103.29 242.59 L103.54 242.61 L103.79 242.63 L104.03 242.65 L104.28 242.66 L104.53 242.68 L104.77 242.70 L105.02 242.72 L105.27 242.73 L105.52 242.75 L105.76 242.77 L106.01 242.78 L106.26 242.80 L106.51 242.82 L106.75 242.83 L107.00 242.85 L107.25 242.87 L107.49 242.88 L107.74 242.90 L107.99 242.92 L108.24 242.93 L108.48 242.95 L108.73 242.96 L108.98 242.98 L109.23 242.99 L109.47 243.01 L109.72 243.02 L109.97 243.04 L110.21 243.06 L110.46 243.07 L110.71 243.08 L110.96 243.10 L111.20 243.11 L111.45 243.13 L111.70 243.14 L111.95 243.16 L112.19 243.17 L112.44 243.19 L112.69 243.21 L112.93 243.22 L113.18 243.24 L113.43 243.25 L113.68 243.27 L113.92 243.28 L114.17 243.30 L114.42 243.31 L114.67 243.33 L114.91 243.35 L115.16 243.36 L115.41 243.38 L115.65 243.39 L115.90 243.41 L116.15 243.42 L116.40 243.44 L116.64 243.46 L116.89 243.47 L117.14 243.49 L117.39 243.51 L117.63 243.52 L117.88 243.54 L118.13 243.55 L118.37 243.57 L118.62 243.59 L118.87 243.60 L119.12 243.62 L119.36 243.64 L119.61 243.65 L119.86 243.67 L120.11 243.69 L120.35 243.71 L120.60 243.72 L120.85 243.74 L121.09 243.76 L121.34 243.77 L121.59 243.79 L121.84 243.81 L122.08 243.83 L122.33 243.84 L122.58 243.86 L122.83 243.88 L123.07 243.90 L123.32 243.91 L123.57 243.93 L123.81 243.95 L124.06 243.97 L124.31 243.99 L124.56 244.00 L124.80 244.02 L125.05 244.04 L125.30 244.06 L125.55 244.08 L125.79 244.10 L126.04 244.12 L126.29 244.13 L126.53 244.15 L126.78 244.17 L127.03 244.19 L127.28 244.21 L127.52 244.23 L127.77 244.25 L128.02 244.27 L128.27 244.29 L128.51 244.31 L128.76 244.33 L129.01 244.35 L129.25 244.37 L129.50 244.38 L129.75 244.40 L130.00 244.42 L130.24 244.44 L130.49 244.46 L130.74 244.48 L130.99 244.51 L131.23 244.53 L131.48 244.55 L131.73 244.57 L131.97 244.59 L132.22 244.61 L132.47 244.63 L132.72 244.65 L132.96 244.67 L133.21 244.69 L133.46 244.71 L133.71 244.73 L133.95 244.76 L134.20 244.78 L134.45 244.80 L134.69 244.82 L134.94 244.84 L135.19 244.86 L135.44 244.89 L135.68 244.91 L135.93 244.93 L136.18 244.95 L136.43 244.98 L136.67 245.00 L136.92 245.02 L137.17 245.04 L137.41 245.07 L137.66 245.09 L137.91 245.11 L138.16 245.14 L138.40 245.16 L138.65 245.18 L138.90 245.21 L139.14 245.23 L139.39 245.25 L139.64 245.28 L139.89 245.30 L140.13 245.33 L140.38 245.35 L140.63 245.38 L140.88 245.40 L141.12 245.43 L141.37 245.45 L141.62 245.48 L141.86 245.50 L142.11 245.53 L142.36 245.55 L142.61 245.58 L142.85 245.60 L143.10 245.63 L143.35 245.65 L143.60 245.68 L143.84 245.71 L144.09 245.73 L144.34 245.76 L144.58 245.79 L144.83 245.81 L145.08 245.84 L145.33 245.87 L145.57 245.89 L145.82 245.92 L146.07 245.95 L146.32 245.98 L146.56 246.01 L146.81 246.03 L147.06 246.06 L147.30 246.09 L147.55 246.12 L147.80 246.15 L148.05 246.18 L148.29 246.21 L148.54 246.23 L148.79 246.26 L149.04 246.29 L149.28 246.32 L149.53 246.35 L149.78 246.38 L150.02 246.41 L150.27 246.44 L150.52 246.48 L150.77 246.51 L151.01 246.54 L151.26 246.57 L151.51 246.60 L151.76 246.63 L152.00 246.66 L152.25 246.70 L152.50 246.73 L152.74 246.76 L152.99 246.79 L153.24 246.83 L153.49 246.86 L153.73 246.89 L153.98 246.93 L154.23 246.96 L154.48 246.99 L154.72 247.03 L154.97 247.06 L155.22 247.10 L155.46 247.13 L155.71 247.17 L155.96 247.20 L156.21 247.24 L156.45 247.27 L156.70 247.31 L156.95 247.35 L157.20 247.38 L157.44 247.42 L157.69 247.46 L157.94 247.49 L158.18 247.53 L158.43 247.57 L158.68 247.61 L158.93 247.65 L159.17 247.68 L159.42 247.72 L159.67 247.76 L159.92 247.80 L160.16 247.84 L160.41 247.88 L160.66 247.92 L160.90 247.96 L161.15 248.00 L161.40 248.04 L161.65 248.09 L161.89 248.13 L162.14 248.17 L162.39 248.21 L162.64 248.26 L162.88 248.30 L163.13 248.34 L163.38 248.39 L163.62 248.43 L163.87 248.47 L164.12 248.52 L164.37 248.56 L164.61 248.61 L164.86 248.66 L165.11 248.70 L165.36 248.75 L165.60 248.80 L165.85 248.84 L166.10 248.89 L166.34 248.94 L166.59 248.99 L166.84 249.04 L167.09 249.08 L167.33 249.13 L167.58 249.18 L167.83 249.23 L168.08 249.29 L168.32 249.34 L168.57 249.39 L168.82 249.44 L169.06 249.49 L169.31 249.55 L169.56 249.60 L169.81 249.65 L170.05 249.71 L170.30 249.76 L170.55 249.82 L170.80 249.87 L171.04 249.93 L171.29 249.99 L171.54 250.04 L171.78 250.10 L172.03 250.16 L172.28 250.22 L172.53 250.28 L172.77 250.34 L173.02 250.40 L173.27 250.46 L173.51 250.52 L173.76 250.58 L174.01 250.65 L174.26 250.71 L174.50 250.77 L174.75 250.84 L175.00 250.90 L175.25 250.97 L175.49 251.03 L175.74 251.10 L175.99 251.17 L176.23 251.24 L176.48 251.31 L176.73 251.38 L176.98 251.45 L177.22 251.52 L177.47 251.59 L177.72 251.66 L177.97 251.73 L178.21 251.81 L178.46 251.88 L178.71 251.96 L178.95 252.03 L179.20 252.11 L179.45 252.19 L179.70 252.26 L179.94 252.34 L180.19 252.42 L180.44 252.50 L180.69 252.58 L180.93 252.67 L181.18 252.75 L181.43 252.83 L181.67 252.92 L181.92 253.00 L182.17 253.09 L182.42 253.18 L182.66 253.27 L182.91 253.36 L183.16 253.45 L183.41 253.54 L183.65 253.63 L183.90 253.72 L184.15 253.82 L184.39 253.91 L184.64 254.01 L184.89 254.11 L185.14 254.20 L185.38 254.30 L185.63 254.40 L185.88 254.51 L186.13 254.61 L186.37 254.71 L186.62 254.82 L186.87 254.92 L187.11 255.03 L187.36 255.14 L187.61 255.25 L187.86 255.36 L188.10 255.47 L188.35 255.59 L188.60 255.70 L188.85 255.82 L189.09 255.94 L189.34 256.06 L189.59 256.18 L189.83 256.30 L190.08 256.42 L190.33 256.55 L190.58 256.67 L190.82 256.80 L191.07 256.93 L191.32 257.06 L191.57 257.19 L191.81 257.33 L192.06 257.46 L192.31 257.60 L192.55 257.73 L192.80 257.87 L193.05 258.01 L193.30 258.15 L193.54 258.29 L193.79 258.43 L194.04 258.58 L194.29 258.72 L194.53 258.87 L194.78 259.01 L195.03 259.16 L195.27 259.31 L195.52 259.46 L195.77 259.61 L196.02 259.76 L196.26 259.92 L196.51 260.07 L196.76 260.23 L197.01 260.39 L197.25 260.55 L197.50 260.71 L197.75 260.87 L197.99 261.04 L198.24 261.21 L198.49 261.37 L198.74 261.54 L198.98 261.71 L199.23 261.89 L199.48 262.06 L199.73 262.24 L199.97 262.41 L200.22 262.59 L200.47 262.77 L200.71 262.95 L200.96 263.14 L201.21 263.32 L201.46 263.50 L201.70 263.69 L201.95 263.88 L202.20 264.07 L202.45 264.26 L202.69 264.45 L202.94 264.64 L203.19 264.83 L203.43 265.02 L203.68 265.21 L203.93 265.40 L204.18 265.60 L204.42 265.79 L204.67 265.98 L204.92 266.17 L205.17 266.36 L205.41 266.54 L205.66 266.73 L205.91 266.91 L206.15 267.09 L206.40 267.27 L206.65 267.45 L206.90 267.62 L207.14 267.78 L207.39 267.94 L207.64 268.10 L207.89 268.24 L208.13 268.38 L208.38 268.51 L208.63 268.63 L208.87 268.75 L209.12 268.85 L209.37 268.94 L209.62 269.02 L209.86 269.08 L210.11 269.13 L210.36 269.16 L210.61 269.18 L210.85 269.18 L211.10 269.16 L211.35 269.12 L211.59 269.06 L211.84 268.98 L212.09 268.87 L212.34 268.74 L212.58 268.59 L212.83 268.40 L213.08 268.19 L213.32 267.95 L213.57 267.67 L213.82 267.37 L214.07 267.03 L214.31 266.66 L214.56 266.26 L214.81 265.81 L215.06 265.34 L215.30 264.82 L215.55 264.27 L215.80 263.69 L216.04 263.07 L216.29 262.41 L216.54 261.71 L216.79 260.98 L217.03 260.22 L217.28 259.43 L217.53 258.60 L217.78 257.74 L218.02 256.86 L218.27 255.95 L218.52 255.01 L218.76 254.05 L219.01 253.08 L219.26 252.09 L219.51 251.09 L219.75 250.07 L220.00 249.05 L220.25 248.02 L220.50 247.00 L220.74 245.97 L220.99 244.95 L221.24 243.93 L221.48 242.93 L221.73 241.93 L221.98 240.95 L222.23 239.99 L222.47 239.05 L222.72 238.12 L222.97 237.22 L223.22 236.35 L223.46 235.50 L223.71 234.67 L223.96 233.88 L224.20 233.11 L224.45 232.37 L224.70 231.66 L224.95 230.97 L225.19 230.32 L225.44 229.70 L225.69 229.10 L225.94 228.54 L226.18 228.00 L226.43 227.49 L226.68 227.01 L226.92 226.56 L227.17 226.13 L227.42 225.73 L227.67 225.35 L227.91 225.00 L228.16 224.67 L228.41 224.36 L228.66 224.07 L228.90 223.81 L229.15 223.56 L229.40 223.33 L229.64 223.12 L229.89 222.93 L230.14 222.75 L230.39 222.59 L230.63 222.45 L230.88 222.32 L231.13 222.20 L231.38 222.10 L231.62 222.01 L231.87 221.92 L232.12 221.85 L232.36 221.80 L232.61 221.75 L232.86 221.70 L233.11 221.67 L233.35 221.65 L233.60 221.63 L233.85 221.62 L234.10 221.62 L234.34 221.63 L234.59 221.64 L234.84 221.65 L235.08 221.67 L235.33 221.70 L235.58 221.73 L235.83 221.76 L236.07 221.80 L236.32 221.84 L236.57 221.89 L236.82 221.94 L237.06 221.99 L237.31 222.05 L237.56 222.11 L237.80 222.17 L238.05 222.23 L238.30 222.29 L238.55 222.36 L238.79 222.43 L239.04 222.50 L239.29 222.57 L239.54 222.64 L239.78 222.72 L240.03 222.79 L240.28 222.87 L240.52 222.94 L240.77 223.02 L241.02 223.10 L241.27 223.18 L241.51 223.26 L241.76 223.34 L242.01 223.42 L242.26 223.50 L242.50 223.58 L242.75 223.66 L243.00 223.74 L243.24 223.83 L243.49 223.91 L243.74 223.99 L243.99 224.07 L244.23 224.15 L244.48 224.23 L244.73 224.32 L244.98 224.40 L245.22 224.48 L245.47 224.56 L245.72 224.64 L245.96 224.72 L246.21 224.80 L246.46 224.88 L246.71 224.96 L246.95 225.04 L247.20 225.12 L247.45 225.20 L247.69 225.28 L247.94 225.35 L248.19 225.43 L248.44 225.51 L248.68 225.59 L248.93 225.66 L249.18 225.74 L249.43 225.81 L249.67 225.89 L249.92 225.96 L250.17 226.04 L250.41 226.11 L250.66 226.18 L250.91 226.26 L251.16 226.33 L251.40 226.40 L251.65 226.47 L251.90 226.54 L252.15 226.61 L252.39 226.68 L252.64 226.75 L252.89 226.82 L253.13 226.89 L253.38 226.96 L253.63 227.02 L253.88 227.09 L254.12 227.16 L254.37 227.22 L254.62 227.29 L254.87 227.35 L255.11 227.42 L255.36 227.48 L255.61 227.55 L255.85 227.61 L256.10 227.67 L256.35 227.73 L256.60 227.80 L256.84 227.86 L257.09 227.92 L257.34 227.98 L257.59 228.04 L257.83 228.10 L258.08 228.16 L258.33 228.22 L258.57 228.27 L258.82 228.33 L259.07 228.39 L259.32 228.45 L259.56 228.50 L259.81 228.56 L260.06 228.61 L260.31 228.67 L260.55 228.72 L260.80 228.78 L261.05 228.83 L261.29 228.88 L261.54 228.94 L261.79 228.99 L262.04 229.04 L262.28 229.09 L262.53 229.15 L262.78 229.20 L263.03 229.25 L263.27 229.30 L263.52 229.35 L263.77 229.40 L264.01 229.45 L264.26 229.50 L264.51 229.55 L264.76 229.59 L265.00 229.64 L265.25 229.69 L265.50 229.74 L265.75 229.78 L265.99 229.83 L266.24 229.88 L266.49 229.92 L266.73 229.97 L266.98 230.01 L267.23 230.06 L267.48 230.10 L267.72 230.15 L267.97 230.19 L268.22 230.23 L268.47 230.28 L268.71 230.32 L268.96 230.36 L269.21 230.40 L269.45 230.45 L269.70 230.49 L269.95 230.53 L270.20 230.57 L270.44 230.61 L270.69 230.65 L270.94 230.69 L271.19 230.73 L271.43 230.77 L271.68 230.81 L271.93 230.85 L272.17 230.89 L272.42 230.93 L272.67 230.97 L272.92 231.01 L273.16 231.04 L273.41 231.08 L273.66 231.12 L273.91 231.16 L274.15 231.19 L274.40 231.23 L274.65 231.27 L274.89 231.30 L275.14 231.34 L275.39 231.37 L275.64 231.41 L275.88 231.45 L276.13 231.48 L276.38 231.52 L276.63 231.55 L276.87 231.59 L277.12 231.62 L277.37 231.65 L277.61 231.69 L277.86 231.72 L278.11 231.75 L278.36 231.79 L278.60 231.82 L278.85 231.85 L279.10 231.89 L279.35 231.92 L279.59 231.95 L279.84 231.98 L280.09 232.01 L280.33 232.05 L280.58 232.08 L280.83 232.11 L281.08 232.14 L281.32 232.17 L281.57 232.20 L281.82 232.23 L282.07 232.26 L282.31 232.29 L282.56 232.32 L282.81 232.35 L283.05 232.38 L283.30 232.41 L283.55 232.44 L283.80 232.47 L284.04 232.50 L284.29 232.53 L284.54 232.56 L284.78 232.58 L285.03 232.61 L285.28 232.64 L285.53 232.67 L285.77 232.70 L286.02 232.72 L286.27 232.75 L286.52 232.78 L286.76 232.81 L287.01 232.83 L287.26 232.86 L287.50 232.89 L287.75 232.91 L288.00 232.94 L288.25 232.97 L288.49 232.99 L288.74 233.02 L288.99 233.04 L289.24 233.07 L289.48 233.10 L289.73 233.12 L289.98 233.15 L290.22 233.17 L290.47 233.20 L290.72 233.22 L290.97 233.25 L291.21 233.27 L291.46 233.30 L291.71 233.32 L291.96 233.34 L292.20 233.37 L292.45 233.39 L292.70 233.42 L292.94 233.44 L293.19 233.46 L293.44 233.49 L293.69 233.51 L293.93 233.54 L294.18 233.56 L294.43 233.58 L294.68 233.60 L294.92 233.63 L295.17 233.65 L295.42 233.67 L295.66 233.70 L295.91 233.72 L296.16 233.74 L296.41 233.76 L296.65 233.79 L296.90 233.81 L297.15 233.83 L297.40 233.85 L297.64 233.87 L297.89 233.89 L298.14 233.92 L298.38 233.94 L298.63 233.96 L298.88 233.98 L299.13 234.00 L299.37 234.02 L299.62 234.04 L299.87 234.06 L300.12 234.09 L300.36 234.11 L300.61 234.13 L300.86 234.15 L301.10 234.17 L301.35 234.19 L301.60 234.21 L301.85 234.23 L302.09 234.25 L302.34 234.27 L302.59 234.29 L302.84 234.31 L303.08 234.33 L303.33 234.35 L303.58 234.37 L303.82 234.39 L304.07 234.41 L304.32 234.43 L304.57 234.44 L304.81 234.46 L305.06 234.48 L305.31 234.50 L305.56 234.52 L305.80 234.54 L306.05 234.56 L306.30 234.58 L306.54 234.60 L306.79 234.61 L307.04 234.63 L307.29 234.65 L307.53 234.67 L307.78 234.69 L308.03 234.71 L308.28 234.72 L308.52 234.74 L308.77 234.76 L309.02 234.78 L309.26 234.80 L309.51 234.81 L309.76 234.83 L310.01 234.85 L310.25 234.87 L310.50 234.88 L310.75 234.90 L311.00 234.92 L311.24 234.93 L311.49 234.95 L311.74 234.97 L311.98 234.99 L312.23 235.00 L312.48 235.02 L312.73 235.04 L312.97 235.05 L313.22 235.07 L313.47 235.09 L313.72 235.10 L313.96 235.12 L314.21 235.14 L314.46 235.15 L314.70 235.17 L314.95 235.19 L315.20 235.20 L315.45 235.22 L315.69 235.24 L315.94 235.25 L316.19 235.27 L316.44 235.28 L316.68 235.30 L316.93 235.32 L317.18 235.33 L317.42 235.35 L317.67 235.36 L317.92 235.38 L318.17 235.39 L318.41 235.41 L318.66 235.42 L318.91 235.44 L319.16 235.46 L319.40 235.47 L319.65 235.49 L319.90 235.50 L320.14 235.52 L320.39 235.53 L320.64 235.55 L320.89 235.56 L321.13 235.58 L321.38 235.59 L321.63 235.61 L321.87 235.62 L322.12 235.64 L322.37 235.65 L322.62 235.67 L322.86 235.68 L323.11 235.70 L323.36 235.71 L323.61 235.72 L323.85 235.74 L324.10 235.75 L324.35 235.77 L324.59 235.78 L324.84 235.80 L325.09 235.81 L325.34 235.83 L325.58 235.84 L325.83 235.85 L326.08 235.87 L326.33 235.88 L326.57 235.90 L326.82 235.91 L327.07 235.92 L327.31 235.94 L327.56 235.95 L327.81 235.97 L328.06 235.98 L328.30 235.99 L328.55 236.01 L328.80 236.02 L329.05 236.03 L329.29 236.05 L329.54 236.06 L329.79 236.07 L330.03 236.09 L330.28 236.10 L330.53 236.11 L330.78 236.13 L331.02 236.14 L331.27 236.15 L331.52 236.17 L331.77 236.18 L332.01 236.19 L332.26 236.21 L332.51 236.22 L332.75 236.23 L333.00 236.25 L333.25 236.26 L333.50 236.27 L333.74 236.29 L333.99 236.30 L334.24 236.31 L334.49 236.32 L334.73 236.34 L334.98 236.35 L335.23 236.36 L335.47 236.38 L335.72 236.39 L335.97 236.40 L336.22 236.41 L336.46 236.43 L336.71 236.44 L336.96 236.45 L337.21 236.46 L337.45 236.48 L337.70 236.49 L337.95 236.50 L338.19 236.51 L338.44 236.53 L338.69 236.54 L338.94 236.55 L339.18 236.56 L339.43 236.57 L339.68 236.59 L339.93 236.60 L340.17 236.61 L340.42 236.62 L340.67 236.64 L340.91 236.65 L341.16 236.66 L341.41 236.67 L341.66 236.68 L341.90 236.70 L342.15 236.71 L342.40 236.72 L342.65 236.73 L342.89 236.74 L343.14 236.75 L343.39 236.77 L343.63 236.78 L343.88 236.79 L344.13 236.80 L344.38 236.81 L344.62 236.82 L344.87 236.84 L345.12 236.85 L345.37 236.86 L345.61 236.87 L345.86 236.88 L346.11 236.89 L346.35 236.91 L346.60 236.92 L346.85 236.93 L347.10 236.94 L347.34 236.95 L347.59 236.96 L347.84 236.97 L348.09 236.99 L348.33 237.00 L348.58 237.01 L348.83 237.02 L349.07 237.03 L349.32 237.04 L349.57 237.05 L349.82 237.06 L350.06 237.08 L350.31 237.09 L350.56 237.10 L350.81 237.11 L351.05 237.12 L351.30 237.13 L351.55 237.14 L351.79 237.15 L352.04 237.16 L352.29 237.18 L352.54 237.19 L352.78 237.20 L353.03 237.21 L353.28 237.22 L353.53 237.23 L353.77 237.24 L354.02 237.25 L354.27 237.26 L354.51 237.27 L354.76 237.28 L355.01 237.29 L355.26 237.31 L355.50 237.32 L355.75 237.33 L356.00 237.34 L356.25 237.35 L356.49 237.36 L356.74 237.37 L356.99 237.38 L357.23 237.39 L357.48 237.40 L357.73 237.41 L357.98 237.42 L358.22 237.43 L358.47 237.44 L358.72 237.45 L358.96 237.46 L359.21 237.47 L359.46 237.49 L359.71 237.50 L359.95 237.51 L360.20 237.52 L360.45 237.53 L360.70 237.54 L360.94 237.55 L361.19 237.56 L361.44 237.57 L361.68 237.58 L361.93 237.59 L362.18 237.60 L362.43 237.61 L362.67 237.62 L362.92 237.63 L363.17 237.64 L363.42 237.65 L363.66 237.66 L363.91 237.67 L364.16 237.68 L364.40 237.69 L364.65 237.70 L364.90 237.71 L365.15 237.72 L365.39 237.73 L365.64 237.74 L365.89 237.75 L366.14 237.76 L366.38 237.77 L366.63 237.78 L366.88 237.79 L367.12 237.80 L367.37 237.81 L367.62 237.82 L367.87 237.83 L368.11 237.84 L368.36 237.85 L368.61 237.86 L368.86 237.87 L369.10 237.88 L369.35 237.89 L369.60 237.90 L369.84 237.91 L370.09 237.92 L370.34 237.93 L370.59 237.94 L370.83 237.95 L371.08 237.96 L371.33 237.97 L371.58 237.98 L371.82 237.99 L372.07 238.00 L372.32 238.01 L372.56 238.02 L372.81 238.03 L373.06 238.04 L373.31 238.05 L373.55 238.06 L373.80 238.07 L374.05 238.08 L374.30 238.09 L374.54 238.10 L374.79 238.11 L375.04 238.12 L375.28 238.13 L375.53 238.14 L375.78 238.15 L376.03 238.16 L376.27 238.17 L376.52 238.18 L376.77 238.19 L377.02 238.19 L377.26 238.20 L377.51 238.21 L377.76 238.22 L378.00 238.23 L378.25 238.24 L378.50 238.25 L378.75 238.26 L378.99 238.27 L379.24 238.28 L379.49 238.29 L379.74 238.30 L379.98 238.31 L380.23 238.32 L380.48 238.33 L380.72 238.34 L380.97 238.35 L381.22 238.36 L381.47 238.37 L381.71 238.38 L381.96 238.39 L382.21 238.39 L382.46 238.40 L382.70 238.41 L382.95 238.42 L383.20 238.43 L383.44 238.44 L383.69 238.45 L383.94 238.46 L384.19 238.47 L384.43 238.48 L384.68 238.49 L384.93 238.50 L385.18 238.51 L385.42 238.52 L385.67 238.53 L385.92 238.54 L386.16 238.55 L386.41 238.55 L386.66 238.56 L386.91 238.57 L387.15 238.58 L387.40 238.59 L387.65 238.60 L387.90 238.61 L388.14 238.62 L388.39 238.63 L388.64 238.64 L388.88 238.65 L389.13 238.66 L389.38 238.67 L389.63 238.68 L389.87 238.69 L390.12 238.69 L390.37 238.70 L390.62 238.71 L390.86 238.72 L391.11 238.73 L391.36 238.74 L391.60 238.75 L391.85 238.76 L392.10 238.77 L392.35 238.78 L392.59 238.79 L392.84 238.80 L393.09 238.81 L393.34 238.82 L393.58 238.82 L393.83 238.83 L394.08 238.84 L394.32 238.85 L394.57 238.86 L394.82 238.87 L395.07 238.88 L395.31 238.89 L395.56 238.90 L395.81 238.91 L396.05 238.92 L396.30 238.93 L396.55 238.94 L396.80 238.94 L397.04 238.95 L397.29 238.96 L397.54 238.97 L397.79 238.98 L398.03 238.99 L398.28 239.00 L398.53 239.01 L398.77 239.02 L399.02 239.03 L399.27 239.04 L399.52 239.05 L399.76 239.06 L400.01 239.06 L400.26 239.07 L400.51 239.08 L400.75 239.09 L401.00 239.10 L401.25 239.11 L401.49 239.12 L401.74 239.13 L401.99 239.14 L402.24 239.15 L402.48 239.16 L402.73 239.17 L402.98 239.18 L403.23 239.18 L403.47 239.19 L403.72 239.20 L403.97 239.21 L404.21 239.22 L404.46 239.23 L404.71 239.24 L404.96 239.25 L405.20 239.26 L405.45 239.27 L405.70 239.28 L405.95 239.29 L406.19 239.30 L406.44 239.30 L406.69 239.31 L406.93 239.32 L407.18 239.33 L407.43 239.34 L407.68 239.35 L407.92 239.36 L408.17 239.37 L408.42 239.38 L408.67 239.39 L408.91 239.40 L409.16 239.41 L409.41 239.42 L409.65 239.42 L409.90 239.43 L410.15 239.44 L410.40 239.45 L410.64 239.46 L410.89 239.47 L411.14 239.48 L411.39 239.49 L411.63 239.50 L411.88 239.51 L412.13 239.52 L412.37 239.53 L412.62 239.54 L412.87 239.54 L413.12 239.55 L413.36 239.56 L413.61 239.57 L413.86 239.58 L414.11 239.59 L414.35 239.60 L414.60 239.61 "/>
<path stroke="#000" d="M43.70 239.61 L43.95 239.58 L44.19 239.55 L44.44 239.53 L44.69 239.50 L44.94 239.47 L45.18 239.44 L45.43 239.41 L45.68 239.38 L45.93 239.36 L46.17 239.33 L46.42 239.30 L46.67 239.27 L46.91 239.24 L47.16 239.22 L47.41 239.19 L47.66 239.16 L47.90 239.13 L48.15 239.10 L48.40 239.07 L48.65 239.04 L48.89 239.02 L49.14 238.99 L49.39 238.96 L49.63 238.93 L49.88 238.90 L50.13 238.87 L50.38 238.84 L50.62 238.82 L50.87 238.79 L51.12 238.76 L51.37 238.73 L51.61 238.70 L51.86 238.67 L52.11 238.64 L52.35 238.61 L52.60 238.59 L52.85 238.56 L53.10 238.53 L53.34 238.50 L53.59 238.47 L53.84 238.44 L54.09 238.41 L54.33 238.38 L54.58 238.35 L54.83 238.32 L55.07 238.29 L55.32 238.26 L55.57 238.24 L55.82 238.21 L56.06 238.18 L56.31 238.15 L56.56 238.12 L56.81 238.09 L57.05 238.06 L57.30 238.03 L57.55 238.00 L57.79 237.97 L58.04 237.94 L58.29 237.91 L58.54 237.88 L58.78 237.85 L59.03 237.82 L59.28 237.79 L59.53 237.76 L59.77 237.73 L60.02 237.70 L60.27 237.67 L60.51 237.64 L60.76 237.61 L61.01 237.58 L61.26 237.55 L61.50 237.52 L61.75 237.49 L62.00 237.46 L62.25 237.43 L62.49 237.40 L62.74 237.37 L62.99 237.34 L63.23 237.31 L63.48 237.28 L63.73 237.25 L63.98 237.22 L64.22 237.19 L64.47 237.16 L64.72 237.13 L64.96 237.10 L65.21 237.07 L65.46 237.03 L65.71 237.00 L65.95 236.97 L66.20 236.94 L66.45 236.91 L66.70 236.88 L66.94 236.85 L67.19 236.82 L67.44 236.79 L67.68 236.75 L67.93 236.72 L68.18 236.69 L68.43 236.66 L68.67 236.63 L68.92 236.60 L69.17 236.57 L69.42 236.53 L69.66 236.50 L69.91 236.47 L70.16 236.44 L70.40 236.41 L70.65 236.38 L70.90 236.34 L71.15 236.31 L71.39 236.28 L71.64 236.25 L71.89 236.22 L72.14 236.18 L72.38 236.15 L72.63 236.12 L72.88 236.09 L73.12 236.05 L73.37 236.02 L73.62 235.99 L73.87 235.96 L74.11 235.92 L74.36 235.89 L74.61 235.86 L74.86 235.83 L75.10 235.79 L75.35 235.76 L75.60 235.73 L75.84 235.69 L76.09 235.66 L76.34 235.63 L76.59 235.59 L76.83 235.56 L77.08 235.53 L77.33 235.49 L77.58 235.46 L77.82 235.43 L78.07 235.39 L78.32 235.36 L78.56 235.33 L78.81 235.29 L79.06 235.26 L79.31 235.22 L79.55 235.19 L79.80 235.16 L80.05 235.12 L80.30 235.09 L80.54 235.05 L80.79 235.02 L81.04 234.98 L81.28 234.95 L81.53 234.91 L81.78 234.88 L82.03 234.85 L82.27 234.81 L82.52 234.78 L82.77 234.74 L83.02 234.71 L83.26 234.67 L83.51 234.64 L83.76 234.60 L84.00 234.56 L84.25 234.53 L84.50 234.49 L84.75 234.46 L84.99 234.42 L85.24 234.39 L85.49 234.35 L85.74 234.31 L85.98 234.28 L86.23 234.24 L86.48 234.21 L86.72 234.17 L86.97 234.13 L87.22 234.10 L87.47 234.06 L87.71 234.02 L87.96 233.99 L88.21 233.95 L88.46 233.91 L88.70 233.88 L88.95 233.84 L89.20 233.80 L89.44 233.77 L89.69 233.73 L89.94 233.69 L90.19 233.65 L90.43 233.62 L90.68 233.58 L90.93 233.54 L91.18 233.50 L91.42 233.46 L91.67 233.43 L91.92 233.39 L92.16 233.35 L92.41 233.31 L92.66 233.27 L92.91 233.23 L93.15 233.19 L93.40 233.16 L93.65 233.12 L93.90 233.08 L94.14 233.04 L94.39 233.00 L94.64 232.96 L94.88 232.92 L95.13 232.88 L95.38 232.84 L95.63 232.80 L95.87 232.76 L96.12 232.72 L96.37 232.68 L96.62 232.64 L96.86 232.60 L97.11 232.56 L97.36 232.52 L97.60 232.48 L97.85 232.44 L98.10 232.40 L98.35 232.36 L98.59 232.32 L98.84 232.28 L99.09 232.23 L99.34 232.19 L99.58 232.15 L99.83 232.11 L100.08 232.07 L100.32 232.02 L100.57 231.98 L100.82 231.94 L101.07 231.89 L101.31 231.85 L101.56 231.81 L101.81 231.76 L102.05 231.72 L102.30 231.67 L102.55 231.63 L102.80 231.58 L103.04 231.53 L103.29 231.49 L103.54 231.44 L103.79 231.39 L104.03 231.35 L104.28 231.30 L104.53 231.25 L104.77 231.20 L105.02 231.16 L105.27 231.11 L105.52 231.06 L105.76 231.01 L106.01 230.96 L106.26 230.91 L106.51 230.86 L106.75 230.81 L107.00 230.76 L107.25 230.71 L107.49 230.66 L107.74 230.61 L107.99 230.56 L108.24 230.51 L108.48 230.46 L108.73 230.40 L108.98 230.35 L109.23 230.30 L109.47 230.25 L109.72 230.20 L109.97 230.14 L110.21 230.09 L110.46 230.04 L110.71 229.98 L110.96 229.93 L111.20 229.88 L111.45 229.82 L111.70 229.77 L111.95 229.71 L112.19 229.66 L112.44 229.60 L112.69 229.55 L112.93 229.50 L113.18 229.44 L113.43 229.38 L113.68 229.33 L113.92 229.27 L114.17 229.22 L114.42 229.16 L114.67 229.11 L114.91 229.05 L115.16 228.99 L115.41 228.94 L115.65 228.88 L115.90 228.82 L116.15 228.77 L116.40 228.71 L116.64 228.65 L116.89 228.60 L117.14 228.54 L117.39 228.48 L117.63 228.42 L117.88 228.37 L118.13 228.31 L118.37 228.25 L118.62 228.19 L118.87 228.13 L119.12 228.08 L119.36 228.02 L119.61 227.96 L119.86 227.90 L120.11 227.84 L120.35 227.78 L120.60 227.72 L120.85 227.66 L121.09 227.60 L121.34 227.54 L121.59 227.48 L121.84 227.42 L122.08 227.36 L122.33 227.29 L122.58 227.23 L122.83 227.17 L123.07 227.11 L123.32 227.05 L123.57 226.98 L123.81 226.92 L124.06 226.86 L124.31 226.79 L124.56 226.73 L124.80 226.67 L125.05 226.60 L125.30 226.54 L125.55 226.47 L125.79 226.41 L126.04 226.34 L126.29 226.28 L126.53 226.21 L126.78 226.14 L127.03 226.08 L127.28 226.01 L127.52 225.94 L127.77 225.88 L128.02 225.81 L128.27 225.74 L128.51 225.67 L128.76 225.60 L129.01 225.54 L129.25 225.47 L129.50 225.40 L129.75 225.33 L130.00 225.26 L130.24 225.19 L130.49 225.12 L130.74 225.05 L130.99 224.97 L131.23 224.90 L131.48 224.83 L131.73 224.76 L131.97 224.69 L132.22 224.61 L132.47 224.54 L132.72 224.47 L132.96 224.39 L133.21 224.32 L133.46 224.24 L133.71 224.17 L133.95 224.09 L134.20 224.02 L134.45 223.94 L134.69 223.86 L134.94 223.79 L135.19 223.71 L135.44 223.63 L135.68 223.55 L135.93 223.47 L136.18 223.39 L136.43 223.32 L136.67 223.24 L136.92 223.16 L137.17 223.07 L137.41 222.99 L137.66 222.91 L137.91 222.83 L138.16 222.75 L138.40 222.66 L138.65 222.58 L138.90 222.50 L139.14 222.41 L139.39 222.33 L139.64 222.24 L139.89 222.16 L140.13 222.07 L140.38 221.99 L140.63 221.90 L140.88 221.81 L141.12 221.72 L141.37 221.63 L141.62 221.55 L141.86 221.46 L142.11 221.37 L142.36 221.28 L142.61 221.19 L142.85 221.09 L143.10 221.00 L143.35 220.91 L143.60 220.82 L143.84 220.72 L144.09 220.63 L144.34 220.53 L144.58 220.44 L144.83 220.34 L145.08 220.25 L145.33 220.15 L145.57 220.05 L145.82 219.95 L146.07 219.85 L146.32 219.75 L146.56 219.65 L146.81 219.55 L147.06 219.45 L147.30 219.35 L147.55 219.25 L147.80 219.14 L148.05 219.04 L148.29 218.94 L148.54 218.83 L148.79 218.72 L149.04 218.62 L149.28 218.51 L149.53 218.40 L149.78 218.29 L150.02 218.18 L150.27 218.07 L150.52 217.96 L150.77 217.85 L151.01 217.74 L151.26 217.63 L151.51 217.51 L151.76 217.40 L152.00 217.28 L152.25 217.17 L152.50 217.05 L152.74 216.93 L152.99 216.81 L153.24 216.69 L153.49 216.57 L153.73 216.45 L153.98 216.33 L154.23 216.21 L154.48 216.08 L154.72 215.96 L154.97 215.83 L155.22 215.71 L155.46 215.58 L155.71 215.45 L155.96 215.32 L156.21 215.19 L156.45 215.06 L156.70 214.93 L156.95 214.79 L157.20 214.66 L157.44 214.52 L157.69 214.38 L157.94 214.24 L158.18 214.10 L158.43 213.96 L158.68 213.82 L158.93 213.68 L159.17 213.53 L159.42 213.39 L159.67 213.24 L159.92 213.09 L160.16 212.94 L160.41 212.79 L160.66 212.64 L160.90 212.49 L161.15 212.34 L161.40 212.18 L161.65 212.02 L161.89 211.87 L162.14 211.71 L162.39 211.55 L162.64 211.39 L162.88 211.22 L163.13 211.06 L163.38 210.90 L163.62 210.73 L163.87 210.56 L164.12 210.39 L164.37 210.22 L164.61 210.05 L164.86 209.88 L165.11 209.70 L165.36 209.53 L165.60 209.35 L165.85 209.17 L166.10 208.99 L166.34 208.81 L166.59 208.63 L166.84 208.44 L167.09 208.26 L167.33 208.07 L167.58 207.88 L167.83 207.69 L168.08 207.50 L168.32 207.31 L168.57 207.11 L168.82 206.92 L169.06 206.72 L169.31 206.52 L169.56 206.32 L169.81 206.12 L170.05 205.91 L170.30 205.71 L170.55 205.50 L170.80 205.29 L171.04 205.08 L171.29 204.86 L171.54 204.65 L171.78 204.43 L172.03 204.21 L172.28 203.99 L172.53 203.77 L172.77 203.55 L173.02 203.32 L173.27 203.09 L173.51 202.86 L173.76 202.63 L174.01 202.40 L174.26 202.16 L174.50 201.92 L174.75 201.68 L175.00 201.43 L175.25 201.19 L175.49 200.94 L175.74 200.68 L175.99 200.43 L176.23 200.17 L176.48 199.91 L176.73 199.65 L176.98 199.38 L177.22 199.11 L177.47 198.84 L177.72 198.56 L177.97 198.28 L178.21 198.00 L178.46 197.72 L178.71 197.43 L178.95 197.14 L179.20 196.84 L179.45 196.55 L179.70 196.24 L179.94 195.94 L180.19 195.63 L180.44 195.32 L180.69 195.00 L180.93 194.68 L181.18 194.36 L181.43 194.03 L181.67 193.70 L181.92 193.37 L182.17 193.03 L182.42 192.68 L182.66 192.33 L182.91 191.98 L183.16 191.63 L183.41 191.27 L183.65 190.90 L183.90 190.53 L184.15 190.15 L184.39 189.78 L184.64 189.39 L184.89 189.00 L185.14 188.61 L185.38 188.21 L185.63 187.80 L185.88 187.39 L186.13 186.98 L186.37 186.56 L186.62 186.13 L186.87 185.70 L187.11 185.26 L187.36 184.81 L187.61 184.36 L187.86 183.91 L188.10 183.44 L188.35 182.97 L188.60 182.50 L188.85 182.02 L189.09 181.54 L189.34 181.06 L189.59 180.57 L189.83 180.08 L190.08 179.59 L190.33 179.09 L190.58 178.58 L190.82 178.07 L191.07 177.56 L191.32 177.03 L191.57 176.51 L191.81 175.97 L192.06 175.43 L192.31 174.88 L192.55 174.32 L192.80 173.76 L193.05 173.18 L193.30 172.60 L193.54 172.01 L193.79 171.41 L194.04 170.80 L194.29 170.18 L194.53 169.55 L194.78 168.91 L195.03 168.26 L195.27 167.59 L195.52 166.92 L195.77 166.23 L196.02 165.53 L196.26 164.81 L196.51 164.08 L196.76 163.34 L197.01 162.59 L197.25 161.82 L197.50 161.03 L197.75 160.23 L197.99 159.41 L198.24 158.58 L198.49 157.73 L198.74 156.86 L198.98 155.98 L199.23 155.08 L199.48 154.16 L199.73 153.22 L199.97 152.27 L200.22 151.31 L200.47 150.32 L200.71 149.33 L200.96 148.32 L201.21 147.29 L201.46 146.25 L201.70 145.19 L201.95 144.11 L202.20 143.02 L202.45 141.91 L202.69 140.79 L202.94 139.65 L203.19 138.49 L203.43 137.32 L203.68 136.13 L203.93 134.93 L204.18 133.70 L204.42 132.47 L204.67 131.21 L204.92 129.94 L205.17 128.66 L205.41 127.36 L205.66 126.04 L205.91 124.71 L206.15 123.37 L206.40 122.01 L206.65 120.65 L206.90 119.26 L207.14 117.87 L207.39 116.47 L207.64 115.06 L207.89 113.64 L208.13 112.22 L208.38 110.79 L208.63 109.36 L208.87 107.93 L209.12 106.51 L209.37 105.12 L209.62 103.75 L209.86 102.40 L210.11 101.07 L210.36 99.77 L210.61 98.49 L210.85 97.24 L211.10 96.02 L211.35 94.82 L211.59 93.66 L211.84 92.53 L212.09 91.43 L212.34 90.38 L212.58 89.36 L212.83 88.39 L213.08 87.48 L213.32 86.66 L213.57 85.91 L213.82 85.23 L214.07 84.64 L214.31 84.12 L214.56 83.69 L214.81 83.33 L215.06 83.05 L215.30 82.86 L215.55 82.73 L215.80 82.70 L216.04 82.76 L216.29 82.94 L216.54 83.26 L216.79 83.71 L217.03 84.33 L217.28 85.12 L217.53 86.08 L217.78 87.19 L218.02 88.45 L218.27 89.87 L218.52 91.45 L218.76 93.20 L219.01 95.10 L219.26 97.17 L219.51 99.40 L219.75 101.79 L220.00 104.33 L220.25 107.03 L220.50 109.87 L220.74 112.85 L220.99 115.97 L221.24 119.20 L221.48 122.53 L221.73 125.94 L221.98 129.42 L222.23 132.97 L222.47 136.56 L222.72 140.20 L222.97 143.87 L223.22 147.55 L223.46 151.25 L223.71 154.94 L223.96 158.63 L224.20 162.29 L224.45 165.93 L224.70 169.53 L224.95 173.09 L225.19 176.60 L225.44 180.06 L225.69 183.46 L225.94 186.79 L226.18 190.05 L226.43 193.23 L226.68 196.34 L226.92 199.37 L227.17 202.32 L227.42 205.19 L227.67 207.97 L227.91 210.67 L228.16 213.28 L228.41 215.81 L228.66 218.25 L228.90 220.61 L229.15 222.89 L229.40 225.08 L229.64 227.19 L229.89 229.22 L230.14 231.18 L230.39 233.05 L230.63 234.86 L230.88 236.59 L231.13 238.25 L231.38 239.84 L231.62 241.36 L231.87 242.82 L232.12 244.21 L232.36 245.55 L232.61 246.83 L232.86 248.05 L233.11 249.21 L233.35 250.33 L233.60 251.39 L233.85 252.40 L234.10 253.37 L234.34 254.29 L234.59 255.17 L234.84 256.00 L235.08 256.80 L235.33 257.55 L235.58 258.27 L235.83 258.96 L236.07 259.61 L236.32 260.23 L236.57 260.82 L236.82 261.37 L237.06 261.90 L237.31 262.40 L237.56 262.88 L237.80 263.33 L238.05 263.75 L238.30 264.15 L238.55 264.54 L238.79 264.89 L239.04 265.23 L239.29 265.55 L239.54 265.86 L239.78 266.14 L240.03 266.41 L240.28 266.66 L240.52 266.89 L240.77 267.11 L241.02 267.32 L241.27 267.51 L241.51 267.69 L241.76 267.86 L242.01 268.01 L242.26 268.16 L242.50 268.29 L242.75 268.41 L243.00 268.53 L243.24 268.63 L243.49 268.73 L243.74 268.81 L243.99 268.89 L244.23 268.96 L244.48 269.02 L244.73 269.08 L244.98 269.13 L245.22 269.17 L245.47 269.20 L245.72 269.23 L245.96 269.26 L246.21 269.28 L246.46 269.29 L246.71 269.30 L246.95 269.30 L247.20 269.30 L247.45 269.29 L247.69 269.28 L247.94 269.27 L248.19 269.25 L248.44 269.23 L248.68 269.21 L248.93 269.18 L249.18 269.15 L249.43 269.11 L249.67 269.08 L249.92 269.04 L250.17 268.99 L250.41 268.95 L250.66 268.90 L250.91 268.85 L251.16 268.80 L251.40 268.75 L251.65 268.69 L251.90 268.64 L252.15 268.58 L252.39 268.52 L252.64 268.45 L252.89 268.39 L253.13 268.33 L253.38 268.26 L253.63 268.19 L253.88 268.12 L254.12 268.05 L254.37 267.98 L254.62 267.91 L254.87 267.84 L255.11 267.76 L255.36 267.69 L255.61 267.61 L255.85 267.53 L256.10 267.46 L256.35 267.38 L256.60 267.30 L256.84 267.22 L257.09 267.14 L257.34 267.06 L257.59 266.98 L257.83 266.90 L258.08 266.82 L258.33 266.74 L258.57 266.65 L258.82 266.57 L259.07 266.49 L259.32 266.40 L259.56 266.32 L259.81 266.24 L260.06 266.15 L260.31 266.07 L260.55 265.98 L260.80 265.90 L261.05 265.82 L261.29 265.73 L261.54 265.65 L261.79 265.56 L262.04 265.48 L262.28 265.39 L262.53 265.31 L262.78 265.22 L263.03 265.14 L263.27 265.05 L263.52 264.97 L263.77 264.88 L264.01 264.80 L264.26 264.71 L264.51 264.63 L264.76 264.55 L265.00 264.46 L265.25 264.38 L265.50 264.29 L265.75 264.21 L265.99 264.13 L266.24 264.04 L266.49 263.96 L266.73 263.88 L266.98 263.79 L267.23 263.71 L267.48 263.63 L267.72 263.55 L267.97 263.46 L268.22 263.38 L268.47 263.30 L268.71 263.22 L268.96 263.14 L269.21 263.05 L269.45 262.97 L269.70 262.89 L269.95 262.81 L270.20 262.73 L270.44 262.65 L270.69 262.57 L270.94 262.49 L271.19 262.41 L271.43 262.33 L271.68 262.25 L271.93 262.18 L272.17 262.10 L272.42 262.02 L272.67 261.94 L272.92 261.86 L273.16 261.79 L273.41 261.71 L273.66 261.63 L273.91 261.56 L274.15 261.48 L274.40 261.40 L274.65 261.33 L274.89 261.25 L275.14 261.18 L275.39 261.10 L275.64 261.03 L275.88 260.95 L276.13 260.88 L276.38 260.81 L276.63 260.73 L276.87 260.66 L277.12 260.59 L277.37 260.51 L277.61 260.44 L277.86 260.37 L278.11 260.30 L278.36 260.23 L278.60 260.15 L278.85 260.08 L279.10 260.01 L279.35 259.94 L279.59 259.87 L279.84 259.80 L280.09 259.73 L280.33 259.66 L280.58 259.59 L280.83 259.52 L281.08 259.45 L281.32 259.39 L281.57 259.32 L281.82 259.25 L282.07 259.18 L282.31 259.12 L282.56 259.05 L282.81 258.98 L283.05 258.91 L283.30 258.85 L283.55 258.78 L283.80 258.72 L284.04 258.65 L284.29 258.59 L284.54 258.52 L284.78 258.46 L285.03 258.39 L285.28 258.33 L285.53 258.26 L285.77 258.20 L286.02 258.13 L286.27 258.07 L286.52 258.01 L286.76 257.95 L287.01 257.88 L287.26 257.82 L287.50 257.76 L287.75 257.70 L288.00 257.63 L288.25 257.57 L288.49 257.51 L288.74 257.45 L288.99 257.39 L289.24 257.33 L289.48 257.27 L289.73 257.21 L289.98 257.15 L290.22 257.09 L290.47 257.03 L290.72 256.97 L290.97 256.91 L291.21 256.85 L291.46 256.80 L291.71 256.74 L291.96 256.68 L292.20 256.62 L292.45 256.56 L292.70 256.51 L292.94 256.45 L293.19 256.39 L293.44 256.34 L293.69 256.28 L293.93 256.22 L294.18 256.17 L294.43 256.11 L294.68 256.05 L294.92 256.00 L295.17 255.94 L295.42 255.89 L295.66 255.83 L295.91 255.78 L296.16 255.72 L296.41 255.67 L296.65 255.62 L296.90 255.56 L297.15 255.51 L297.40 255.46 L297.64 255.40 L297.89 255.35 L298.14 255.30 L298.38 255.24 L298.63 255.19 L298.88 255.14 L299.13 255.09 L299.37 255.03 L299.62 254.98 L299.87 254.93 L300.12 254.88 L300.36 254.83 L300.61 254.78 L300.86 254.73 L301.10 254.67 L301.35 254.62 L301.60 254.57 L301.85 254.52 L302.09 254.47 L302.34 254.42 L302.59 254.37 L302.84 254.32 L303.08 254.27 L303.33 254.22 L303.58 254.18 L303.82 254.13 L304.07 254.08 L304.32 254.03 L304.57 253.98 L304.81 253.93 L305.06 253.88 L305.31 253.84 L305.56 253.79 L305.80 253.74 L306.05 253.69 L306.30 253.65 L306.54 253.60 L306.79 253.55 L307.04 253.51 L307.29 253.46 L307.53 253.41 L307.78 253.37 L308.03 253.32 L308.28 253.27 L308.52 253.23 L308.77 253.18 L309.02 253.14 L309.26 253.09 L309.51 253.04 L309.76 253.00 L310.01 252.95 L310.25 252.91 L310.50 252.86 L310.75 252.82 L311.00 252.77 L311.24 252.73 L311.49 252.69 L311.74 252.64 L311.98 252.60 L312.23 252.55 L312.48 252.51 L312.73 252.47 L312.97 252.42 L313.22 252.38 L313.47 252.34 L313.72 252.29 L313.96 252.25 L314.21 252.21 L314.46 252.16 L314.70 252.12 L314.95 252.08 L315.20 252.04 L315.45 251.99 L315.69 251.95 L315.94 251.91 L316.19 251.87 L316.44 251.83 L316.68 251.78 L316.93 251.74 L317.18 251.70 L317.42 251.66 L317.67 251.62 L317.92 251.58 L318.17 251.54 L318.41 251.50 L318.66 251.45 L318.91 251.41 L319.16 251.37 L319.40 251.33 L319.65 251.29 L319.90 251.25 L320.14 251.21 L320.39 251.17 L320.64 251.13 L320.89 251.09 L321.13 251.05 L321.38 251.01 L321.63 250.97 L321.87 250.93 L322.12 250.90 L322.37 250.86 L322.62 250.82 L322.86 250.78 L323.11 250.74 L323.36 250.70 L323.61 250.66 L323.85 250.62 L324.10 250.58 L324.35 250.55 L324.59 250.51 L324.84 250.47 L325.09 250.43 L325.34 250.39 L325.58 250.36 L325.83 250.32 L326.08 250.28 L326.33 250.24 L326.57 250.20 L326.82 250.17 L327.07 250.13 L327.31 250.09 L327.56 250.06 L327.81 250.02 L328.06 249.98 L328.30 249.94 L328.55 249.91 L328.80 249.87 L329.05 249.83 L329.29 249.80 L329.54 249.76 L329.79 249.72 L330.03 249.69 L330.28 249.65 L330.53 249.62 L330.78 249.58 L331.02 249.54 L331.27 249.51 L331.52 249.47 L331.77 249.44 L332.01 249.40 L332.26 249.36 L332.51 249.33 L332.75 249.29 L333.00 249.26 L333.25 249.22 L333.50 249.19 L333.74 249.15 L333.99 249.12 L334.24 249.08 L334.49 249.05 L334.73 249.01 L334.98 248.98 L335.23 248.94 L335.47 248.91 L335.72 248.87 L335.97 248.84 L336.22 248.80 L336.46 248.77 L336.71 248.74 L336.96 248.70 L337.21 248.67 L337.45 248.63 L337.70 248.60 L337.95 248.57 L338.19 248.53 L338.44 248.50 L338.69 248.46 L338.94 248.43 L339.18 248.40 L339.43 248.36 L339.68 248.33 L339.93 248.30 L340.17 248.26 L340.42 248.23 L340.67 248.20 L340.91 248.16 L341.16 248.13 L341.41 248.10 L341.66 248.06 L341.90 248.03 L342.15 248.00 L342.40 247.97 L342.65 247.93 L342.89 247.90 L343.14 247.87 L343.39 247.83 L343.63 247.80 L343.88 247.77 L344.13 247.74 L344.38 247.70 L344.62 247.67 L344.87 247.64 L345.12 247.61 L345.37 247.58 L345.61 247.54 L345.86 247.51 L346.11 247.48 L346.35 247.45 L346.60 247.42 L346.85 247.38 L347.10 247.35 L347.34 247.32 L347.59 247.29 L347.84 247.26 L348.09 247.23 L348.33 247.19 L348.58 247.16 L348.83 247.13 L349.07 247.10 L349.32 247.07 L349.57 247.04 L349.82 247.01 L350.06 246.97 L350.31 246.94 L350.56 246.91 L350.81 246.88 L351.05 246.85 L351.30 246.82 L351.55 246.79 L351.79 246.76 L352.04 246.73 L352.29 246.70 L352.54 246.67 L352.78 246.63 L353.03 246.60 L353.28 246.57 L353.53 246.54 L353.77 246.51 L354.02 246.48 L354.27 246.45 L354.51 246.42 L354.76 246.39 L355.01 246.36 L355.26 246.33 L355.50 246.30 L355.75 246.27 L356.00 246.24 L356.25 246.21 L356.49 246.18 L356.74 246.15 L356.99 246.12 L357.23 246.09 L357.48 246.06 L357.73 246.03 L357.98 246.00 L358.22 245.97 L358.47 245.94 L358.72 245.91 L358.96 245.88 L359.21 245.85 L359.46 245.82 L359.71 245.79 L359.95 245.76 L360.20 245.73 L360.45 245.70 L360.70 245.67 L360.94 245.64 L361.19 245.62 L361.44 245.59 L361.68 245.56 L361.93 245.53 L362.18 245.50 L362.43 245.47 L362.67 245.44 L362.92 245.41 L363.17 245.38 L363.42 245.35 L363.66 245.32 L363.91 245.29 L364.16 245.27 L364.40 245.24 L364.65 245.21 L364.90 245.18 L365.15 245.15 L365.39 245.12 L365.64 245.09 L365.89 245.06 L366.14 245.03 L366.38 245.01 L366.63 244.98 L366.88 244.95 L367.12 244.92 L367.37 244.89 L367.62 244.86 L367.87 244.83 L368.11 244.80 L368.36 244.78 L368.61 244.75 L368.86 244.72 L369.10 244.69 L369.35 244.66 L369.60 244.63 L369.84 244.61 L370.09 244.58 L370.34 244.55 L370.59 244.52 L370.83 244.49 L371.08 244.46 L371.33 244.44 L371.58 244.41 L371.82 244.38 L372.07 244.35 L372.32 244.32 L372.56 244.29 L372.81 244.27 L373.06 244.24 L373.31 244.21 L373.55 244.18 L373.80 244.15 L374.05 244.13 L374.30 244.10 L374.54 244.07 L374.79 244.04 L375.04 244.01 L375.28 243.99 L375.53 243.96 L375.78 243.93 L376.03 243.90 L376.27 243.87 L376.52 243.85 L376.77 243.82 L377.02 243.79 L377.26 243.76 L377.51 243.74 L377.76 243.71 L378.00 243.68 L378.25 243.65 L378.50 243.62 L378.75 243.60 L378.99 243.57 L379.24 243.54 L379.49 243.51 L379.74 243.49 L379.98 243.46 L380.23 243.43 L380.48 243.40 L380.72 243.37 L380.97 243.35 L381.22 243.32 L381.47 243.29 L381.71 243.26 L381.96 243.24 L382.21 243.21 L382.46 243.18 L382.70 243.15 L382.95 243.13 L383.20 243.10 L383.44 243.07 L383.69 243.04 L383.94 243.02 L384.19 242.99 L384.43 242.96 L384.68 242.93 L384.93 242.91 L385.18 242.88 L385.42 242.85 L385.67 242.82 L385.92 242.80 L386.16 242.77 L386.41 242.74 L386.66 242.72 L386.91 242.69 L387.15 242.66 L387.40 242.63 L387.65 242.61 L387.90 242.58 L388.14 242.55 L388.39 242.52 L388.64 242.50 L388.88 242.47 L389.13 242.44 L389.38 242.41 L389.63 242.39 L389.87 242.36 L390.12 242.33 L390.37 242.31 L390.62 242.28 L390.86 242.25 L391.11 242.22 L391.36 242.20 L391.60 242.17 L391.85 242.14 L392.10 242.11 L392.35 242.09 L392.59 242.06 L392.84 242.03 L393.09 242.00 L393.34 241.98 L393.58 241.95 L393.83 241.92 L394.08 241.90 L394.32 241.87 L394.57 241.84 L394.82 241.81 L395.07 241.79 L395.31 241.76 L395.56 241.73 L395.81 241.70 L396.05 241.68 L396.30 241.65 L396.55 241.62 L396.80 241.60 L397.04 241.57 L397.29 241.54 L397.54 241.51 L397.79 241.49 L398.03 241.46 L398.28 241.43 L398.53 241.40 L398.77 241.38 L399.02 241.35 L399.27 241.32 L399.52 241.30 L399.76 241.27 L400.01 241.24 L400.26 241.21 L400.51 241.19 L400.75 241.16 L401.00 241.13 L401.25 241.10 L401.49 241.08 L401.74 241.05 L401.99 241.02 L402.24 240.99 L402.48 240.97 L402.73 240.94 L402.98 240.91 L403.23 240.88 L403.47 240.86 L403.72 240.83 L403.97 240.80 L404.21 240.77 L404.46 240.75 L404.71 240.72 L404.96 240.69 L405.20 240.66 L405.45 240.64 L405.70 240.61 L405.95 240.58 L406.19 240.55 L406.44 240.53 L406.69 240.50 L406.93 240.47 L407.18 240.44 L407.43 240.42 L407.68 240.39 L407.92 240.36 L408.17 240.33 L408.42 240.31 L408.67 240.28 L408.91 240.25 L409.16 240.22 L409.41 240.20 L409.65 240.17 L409.90 240.14 L410.15 240.11 L410.40 240.08 L410.64 240.06 L410.89 240.03 L411.14 240.00 L411.39 239.97 L411.63 239.95 L411.88 239.92 L412.13 239.89 L412.37 239.86 L412.62 239.83 L412.87 239.81 L413.12 239.78 L413.36 239.75 L413.61 239.72 L413.86 239.69 L414.11 239.67 L414.35 239.64 L414.60 239.61 "/>
</g>
<path d="M43.70 268.10 v-4.20 M43.70 3.30 v4.20 M62.25 268.10 v-2.00 M62.25 3.30 v2.00 M80.79 268.10 v-2.00 M80.79 3.30 v2.00 M99.34 268.10 v-2.00 M99.34 3.30 v2.00 M117.88 268.10 v-4.20 M117.88 3.30 v4.20 M136.43 268.10 v-2.00 M136.43 3.30 v2.00 M154.97 268.10 v-2.00 M154.97 3.30 v2.00 M173.51 268.10 v-2.00 M173.51 3.30 v2.00 M192.06 268.10 v-4.20 M192.06 3.30 v4.20 M210.61 268.10 v-2.00 M210.61 3.30 v2.00 M229.15 268.10 v-2.00 M229.15 3.30 v2.00 M247.69 268.10 v-2.00 M247.69 3.30 v2.00 M266.24 268.10 v-4.20 M266.24 3.30 v4.20 M284.78 268.10 v-2.00 M284.78 3.30 v2.00 M303.33 268.10 v-2.00 M303.33 3.30 v2.00 M321.87 268.10 v-2.00 M321.87 3.30 v2.00 M340.42 268.10 v-4.20 M340.42 3.30 v4.20 M358.96 268.10 v-2.00 M358.96 3.30 v2.00 M377.51 268.10 v-2.00 M377.51 3.30 v2.00 M396.06 268.10 v-2.00 M396.06 3.30 v2.00 M414.60 268.10 v-4.20 M414.60 3.30 v4.20 M37.10 269.30 h4.20 M421.10 269.30 h-4.20 M37.10 254.46 h2.00 M421.10 254.46 h-2.00 M37.10 239.61 h2.00 M421.10 239.61 h-2.00 M37.10 224.77 h2.00 M421.10 224.77 h-2.00 M37.10 209.92 h4.20 M421.10 209.92 h-4.20 M37.10 195.07 h2.00 M421.10 195.07 h-2.00 M37.10 180.23 h2.00 M421.10 180.23 h-2.00 M37.10 165.38 h2.00 M421.10 165.38 h-2.00 M37.10 150.54 h4.20 M421.10 150.54 h-4.20 M37.10 135.69 h2.00 M421.10 135.69 h-2.00 M37.10 120.85 h2.00 M421.10 120.85 h-2.00 M37.10 106.00 h2.00 M421.10 106.00 h-2.00 M37.10 91.16 h4.20 M421.10 91.16 h-4.20 M37.10 76.31 h2.00 M421.10 76.31 h-2.00 M37.10 61.47 h2.00 M421.10 61.47 h-2.00 M37.10 46.62 h2.00 M421.10 46.62 h-2.00 M37.10 31.78 h4.20 M421.10 31.78 h-4.20 M37.10 16.94 h2.00 M421.10 16.94 h-2.00" stroke="#000" stroke-width="2.4" fill="none"/>
<rect x="35.9" y="2.1" width="386.40000000000003" height="267.2" fill="none" stroke="#000" stroke-width="2.4"/>
<g fill="none" stroke-width="2.5">
<path stroke="#f00" d="M267.9 51.9H310.4"/>
<path stroke="#00f" d="M267.9 71.9H310.4"/>
<path stroke="#0f0" d="M267.9 91.6H310.4"/>
<path stroke="#000" d="M267.9 111.3H310.4"/>
</g>
<g filter="url(#tb)">
<g><text transform="translate(43.7 287.1) scale(1.05 1.12)" text-anchor="middle">0.0</text><text transform="translate(117.9 287.1) scale(1.05 1.12)" text-anchor="middle">0.2</text><text transform="translate(192.1 287.1) scale(1.05 1.12)" text-anchor="middle">0.4</text><text transform="translate(266.2 287.1) scale(1.05 1.12)" text-anchor="middle">0.6</text><text transform="translate(340.4 287.1) scale(1.05 1.12)" text-anchor="middle">0.8</text><text transform="translate(414.6 287.1) scale(1.05 1.12)" text-anchor="middle">1.0</text><text transform="translate(32.7 274.2) scale(1.05 1.12)" text-anchor="end">0</text><text transform="translate(32.7 214.8) scale(1.05 1.12)" text-anchor="end">2</text><text transform="translate(32.7 155.4) scale(1.05 1.12)" text-anchor="end">4</text><text transform="translate(32.7 96.1) scale(1.05 1.12)" text-anchor="end">6</text><text transform="translate(32.7 36.7) scale(1.05 1.12)" text-anchor="end">8</text></g>
<g fill="none" stroke="#000" stroke-linecap="round" transform="translate(319.11 52.19)"><path d="M0.11 0.00 C0.39 -1.41 1.30 -2.31 2.09 -1.98" stroke-width="0.6"/><path d="M1.86 -2.03 C2.99 -1.52 3.33 1.41 3.56 4.01" stroke-width="0.95"/><path d="M6.95 -2.37 C5.93 -0.28 4.52 2.54 3.56 4.13 C2.88 5.37 2.31 6.61 2.09 7.74" stroke-width="0.6"/><path d="M2.71 5.54 L2.03 7.63" stroke-width="1.0"/></g>
<g fill="none" stroke="#000" stroke-linecap="round" transform="translate(326.46 52.19)"><path d="M0.11 0.00 C0.39 -1.41 1.30 -2.31 2.09 -1.98" stroke-width="0.6"/><path d="M1.86 -2.03 C2.99 -1.52 3.33 1.41 3.56 4.01" stroke-width="0.95"/><path d="M6.95 -2.37 C5.93 -0.28 4.52 2.54 3.56 4.13 C2.88 5.37 2.31 6.61 2.09 7.74" stroke-width="0.6"/><path d="M2.71 5.54 L2.03 7.63" stroke-width="1.0"/></g>
<g font-style="italic" stroke="#fff" stroke-width="0.12"><text x="319.6" y="77" textLength="14.4" lengthAdjust="spacingAndGlyphs">ZZ</text>
<text x="339.6" y="77" textLength="25" lengthAdjust="spacingAndGlyphs">WW</text>
<text transform="translate(369.3 77) scale(1 0.9)" textLength="12.4" lengthAdjust="spacingAndGlyphs">ττ</text></g>
<path d="M335.2 79.2L338.7 65.4M365.4 79.2L368.9 65.4M227.9 316.4L232.2 302.7" stroke="#000" stroke-width="0.9"/>
<path d="M377.2 66.5H383.4" stroke="#000" stroke-width="0.9"/>
<text transform="translate(319.1 98.7) scale(1 0.9)" stroke="#fff" stroke-width="0.12" font-style="italic" textLength="13.6" lengthAdjust="spacingAndGlyphs">bb</text>
<path d="M325.9 85.1H333.9" stroke="#000" stroke-width="0.9"/>
<text transform="translate(319.2 116.8) skewX(-14)" stroke="#fff" stroke-width="0.12" textLength="12.2" lengthAdjust="spacingAndGlyphs">gg</text>
<text transform="translate(389.8 30.6) scale(1 1.07)" font-size="19px" textLength="20.4" lengthAdjust="spacingAndGlyphs">(a)</text>
<text x="217.9" y="313.6" font-style="italic" font-size="17px" textLength="8.8" lengthAdjust="spacingAndGlyphs">α</text>
<text x="232.9" y="313.6" font-style="italic" font-size="17px" textLength="7.9" lengthAdjust="spacingAndGlyphs">π</text>
<text transform="translate(13.2 187.3) rotate(-90)" x="0" y="0" textLength="102.6" lengthAdjust="spacingAndGlyphs">Br[h]/Br[SM]</text>
</g>
</svg>
</body></html>
